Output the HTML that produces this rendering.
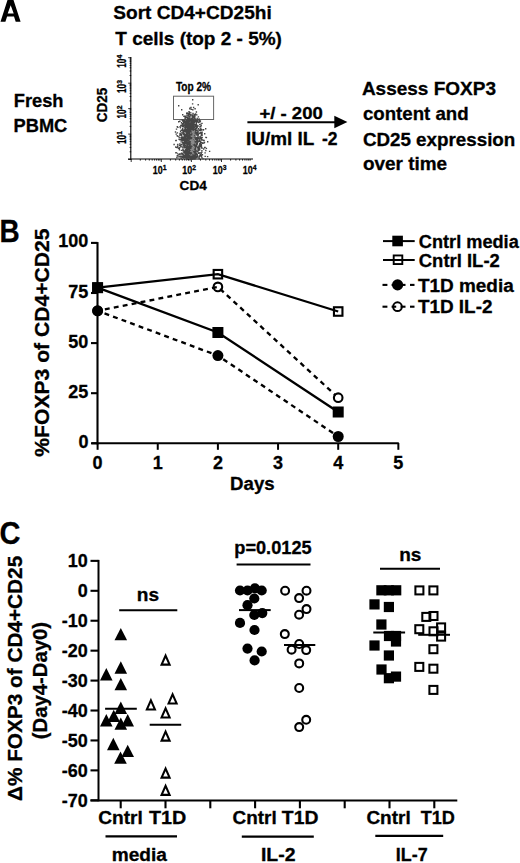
<!DOCTYPE html>
<html><head><meta charset="utf-8"><style>
html,body{margin:0;padding:0;background:#fff;}
svg{display:block;}
text{font-family:"Liberation Sans",sans-serif;font-weight:bold;fill:#000;stroke:#000;stroke-width:0.3px;}
line{stroke:#000;}
</style></head><body>
<svg width="520" height="863" viewBox="0 0 520 863">
<rect width="520" height="863" fill="#fff"/>
<path fill-rule="evenodd" fill="#000" d="M0.5,21.7 L7.5,0 L13.5,0 L20.6,21.7 L15.7,21.7 L14.0,16.4 L7.1,16.4 L5.4,21.7 Z M10.7,5.3 L7.7,13.4 L13.7,13.4 Z"/>
<text x="113.3" y="18.8" font-size="18.5" textLength="158.4" lengthAdjust="spacingAndGlyphs">Sort CD4+CD25hi</text>
<text x="115.3" y="44.6" font-size="18.5" textLength="166.6" lengthAdjust="spacingAndGlyphs">T cells (top 2 - 5%)</text>
<text x="13.8" y="106.9" font-size="17.5" textLength="49.7" lengthAdjust="spacingAndGlyphs">Fresh</text>
<text x="13.5" y="132.3" font-size="18" textLength="53.8" lengthAdjust="spacingAndGlyphs">PBMC</text>
<text x="361.9" y="94.7" font-size="18.5" textLength="134.1" lengthAdjust="spacingAndGlyphs">Assess FOXP3</text>
<text x="362.9" y="119.6" font-size="18.5" textLength="105.8" lengthAdjust="spacingAndGlyphs">content and</text>
<text x="362.9" y="145.5" font-size="18.5" textLength="152.4" lengthAdjust="spacingAndGlyphs">CD25 expression</text>
<text x="362.9" y="169.6" font-size="18.5" textLength="84.2" lengthAdjust="spacingAndGlyphs">over time</text>
<text x="259.4" y="118.6" font-size="16.5" textLength="63.4" lengthAdjust="spacingAndGlyphs">+/ - 200</text>
<text x="246" y="144.6" font-size="17.5" textLength="68.2" lengthAdjust="spacingAndGlyphs">IU/ml IL</text>
<text x="322" y="144.6" font-size="17.5" textLength="15.6" lengthAdjust="spacingAndGlyphs">-2</text>
<line x1="247.4" y1="122.2" x2="336" y2="122.2" stroke-width="2"/>
<polygon points="334.3,115.7 347.4,122.1 334.3,128.3" fill="#000"/>
<g stroke="#666" fill="none">
<line x1="130.8" y1="56.9" x2="130.8" y2="159.5" stroke-width="1.1"/>
<line x1="128" y1="159" x2="253" y2="159" stroke-width="1.1"/>
<line x1="128.2" y1="159.5" x2="131.2" y2="159.5" stroke-width="0.8"/>
<line x1="129.6" y1="151.8" x2="131.2" y2="151.8" stroke-width="0.8"/>
<line x1="129.6" y1="147.4" x2="131.2" y2="147.4" stroke-width="0.8"/>
<line x1="129.6" y1="144.2" x2="131.2" y2="144.2" stroke-width="0.8"/>
<line x1="129.6" y1="141.7" x2="131.2" y2="141.7" stroke-width="0.8"/>
<line x1="129.6" y1="139.7" x2="131.2" y2="139.7" stroke-width="0.8"/>
<line x1="129.6" y1="138.0" x2="131.2" y2="138.0" stroke-width="0.8"/>
<line x1="129.6" y1="136.5" x2="131.2" y2="136.5" stroke-width="0.8"/>
<line x1="129.6" y1="135.2" x2="131.2" y2="135.2" stroke-width="0.8"/>
<line x1="128.2" y1="134.1" x2="131.2" y2="134.1" stroke-width="0.8"/>
<line x1="129.6" y1="126.4" x2="131.2" y2="126.4" stroke-width="0.8"/>
<line x1="129.6" y1="121.9" x2="131.2" y2="121.9" stroke-width="0.8"/>
<line x1="129.6" y1="118.7" x2="131.2" y2="118.7" stroke-width="0.8"/>
<line x1="129.6" y1="116.3" x2="131.2" y2="116.3" stroke-width="0.8"/>
<line x1="129.6" y1="114.2" x2="131.2" y2="114.2" stroke-width="0.8"/>
<line x1="129.6" y1="112.5" x2="131.2" y2="112.5" stroke-width="0.8"/>
<line x1="129.6" y1="111.1" x2="131.2" y2="111.1" stroke-width="0.8"/>
<line x1="129.6" y1="109.8" x2="131.2" y2="109.8" stroke-width="0.8"/>
<line x1="128.2" y1="108.6" x2="131.2" y2="108.6" stroke-width="0.8"/>
<line x1="129.6" y1="100.9" x2="131.2" y2="100.9" stroke-width="0.8"/>
<line x1="129.6" y1="96.5" x2="131.2" y2="96.5" stroke-width="0.8"/>
<line x1="129.6" y1="93.3" x2="131.2" y2="93.3" stroke-width="0.8"/>
<line x1="129.6" y1="90.8" x2="131.2" y2="90.8" stroke-width="0.8"/>
<line x1="129.6" y1="88.8" x2="131.2" y2="88.8" stroke-width="0.8"/>
<line x1="129.6" y1="87.1" x2="131.2" y2="87.1" stroke-width="0.8"/>
<line x1="129.6" y1="85.6" x2="131.2" y2="85.6" stroke-width="0.8"/>
<line x1="129.6" y1="84.3" x2="131.2" y2="84.3" stroke-width="0.8"/>
<line x1="128.2" y1="83.2" x2="131.2" y2="83.2" stroke-width="0.8"/>
<line x1="129.6" y1="75.5" x2="131.2" y2="75.5" stroke-width="0.8"/>
<line x1="129.6" y1="71.0" x2="131.2" y2="71.0" stroke-width="0.8"/>
<line x1="129.6" y1="67.8" x2="131.2" y2="67.8" stroke-width="0.8"/>
<line x1="129.6" y1="65.4" x2="131.2" y2="65.4" stroke-width="0.8"/>
<line x1="129.6" y1="63.3" x2="131.2" y2="63.3" stroke-width="0.8"/>
<line x1="129.6" y1="61.6" x2="131.2" y2="61.6" stroke-width="0.8"/>
<line x1="129.6" y1="60.2" x2="131.2" y2="60.2" stroke-width="0.8"/>
<line x1="129.6" y1="58.9" x2="131.2" y2="58.9" stroke-width="0.8"/>
<line x1="128.2" y1="57.7" x2="131.2" y2="57.7" stroke-width="0.8"/>
<line x1="131.2" y1="159" x2="131.2" y2="162.0" stroke-width="0.8"/>
<line x1="140.3" y1="159" x2="140.3" y2="160.6" stroke-width="0.8"/>
<line x1="145.6" y1="159" x2="145.6" y2="160.6" stroke-width="0.8"/>
<line x1="149.3" y1="159" x2="149.3" y2="160.6" stroke-width="0.8"/>
<line x1="152.2" y1="159" x2="152.2" y2="160.6" stroke-width="0.8"/>
<line x1="154.6" y1="159" x2="154.6" y2="160.6" stroke-width="0.8"/>
<line x1="156.6" y1="159" x2="156.6" y2="160.6" stroke-width="0.8"/>
<line x1="158.4" y1="159" x2="158.4" y2="160.6" stroke-width="0.8"/>
<line x1="159.9" y1="159" x2="159.9" y2="160.6" stroke-width="0.8"/>
<line x1="161.3" y1="159" x2="161.3" y2="162.0" stroke-width="0.8"/>
<line x1="170.4" y1="159" x2="170.4" y2="160.6" stroke-width="0.8"/>
<line x1="175.7" y1="159" x2="175.7" y2="160.6" stroke-width="0.8"/>
<line x1="179.4" y1="159" x2="179.4" y2="160.6" stroke-width="0.8"/>
<line x1="182.3" y1="159" x2="182.3" y2="160.6" stroke-width="0.8"/>
<line x1="184.7" y1="159" x2="184.7" y2="160.6" stroke-width="0.8"/>
<line x1="186.7" y1="159" x2="186.7" y2="160.6" stroke-width="0.8"/>
<line x1="188.5" y1="159" x2="188.5" y2="160.6" stroke-width="0.8"/>
<line x1="190.0" y1="159" x2="190.0" y2="160.6" stroke-width="0.8"/>
<line x1="191.4" y1="159" x2="191.4" y2="162.0" stroke-width="0.8"/>
<line x1="200.5" y1="159" x2="200.5" y2="160.6" stroke-width="0.8"/>
<line x1="205.8" y1="159" x2="205.8" y2="160.6" stroke-width="0.8"/>
<line x1="209.5" y1="159" x2="209.5" y2="160.6" stroke-width="0.8"/>
<line x1="212.4" y1="159" x2="212.4" y2="160.6" stroke-width="0.8"/>
<line x1="214.8" y1="159" x2="214.8" y2="160.6" stroke-width="0.8"/>
<line x1="216.8" y1="159" x2="216.8" y2="160.6" stroke-width="0.8"/>
<line x1="218.6" y1="159" x2="218.6" y2="160.6" stroke-width="0.8"/>
<line x1="220.1" y1="159" x2="220.1" y2="160.6" stroke-width="0.8"/>
<line x1="221.5" y1="159" x2="221.5" y2="162.0" stroke-width="0.8"/>
<line x1="230.6" y1="159" x2="230.6" y2="160.6" stroke-width="0.8"/>
<line x1="235.9" y1="159" x2="235.9" y2="160.6" stroke-width="0.8"/>
<line x1="239.6" y1="159" x2="239.6" y2="160.6" stroke-width="0.8"/>
<line x1="242.5" y1="159" x2="242.5" y2="160.6" stroke-width="0.8"/>
<line x1="244.9" y1="159" x2="244.9" y2="160.6" stroke-width="0.8"/>
<line x1="246.9" y1="159" x2="246.9" y2="160.6" stroke-width="0.8"/>
<line x1="248.7" y1="159" x2="248.7" y2="160.6" stroke-width="0.8"/>
<line x1="250.2" y1="159" x2="250.2" y2="160.6" stroke-width="0.8"/>
</g>
<rect x="173.5" y="96.2" width="40.1" height="23.3" fill="none" stroke="#666" stroke-width="1"/>
<path d="M189.3 118.3h1.4v1.4h-1.4zM188.4 130.9h1.4v1.4h-1.4zM192.6 124.3h1.4v1.4h-1.4zM193.2 136.3h1.4v1.4h-1.4zM192.0 133.3h1.4v1.4h-1.4zM189.9 150.1h1.4v1.4h-1.4zM188.1 137.0h1.4v1.4h-1.4zM189.6 139.5h1.4v1.4h-1.4zM192.3 126.0h1.4v1.4h-1.4zM182.0 130.2h1.4v1.4h-1.4zM193.2 142.4h1.4v1.4h-1.4zM189.9 123.9h1.4v1.4h-1.4zM194.0 144.5h1.4v1.4h-1.4zM186.5 140.4h1.4v1.4h-1.4zM197.8 133.5h1.4v1.4h-1.4zM179.8 127.2h1.4v1.4h-1.4zM192.4 137.5h1.4v1.4h-1.4zM186.9 122.0h1.4v1.4h-1.4zM195.0 131.7h1.4v1.4h-1.4zM179.2 156.0h1.4v1.4h-1.4zM196.4 134.1h1.4v1.4h-1.4zM190.3 121.0h1.4v1.4h-1.4zM181.8 155.7h1.4v1.4h-1.4zM189.4 139.2h1.4v1.4h-1.4zM197.9 152.5h1.4v1.4h-1.4zM184.4 122.3h1.4v1.4h-1.4zM192.6 119.2h1.4v1.4h-1.4zM190.2 135.5h1.4v1.4h-1.4zM198.2 120.7h1.4v1.4h-1.4zM177.2 126.7h1.4v1.4h-1.4zM191.4 119.4h1.4v1.4h-1.4zM187.3 130.4h1.4v1.4h-1.4zM174.8 131.3h1.4v1.4h-1.4zM187.2 150.4h1.4v1.4h-1.4zM188.3 130.7h1.4v1.4h-1.4zM194.0 147.3h1.4v1.4h-1.4zM194.4 149.7h1.4v1.4h-1.4zM183.8 120.2h1.4v1.4h-1.4zM206.9 155.9h1.4v1.4h-1.4zM183.2 155.8h1.4v1.4h-1.4zM194.0 136.1h1.4v1.4h-1.4zM184.3 137.9h1.4v1.4h-1.4zM190.2 153.1h1.4v1.4h-1.4zM183.2 156.8h1.4v1.4h-1.4zM192.6 142.1h1.4v1.4h-1.4zM192.7 152.8h1.4v1.4h-1.4zM185.7 157.3h1.4v1.4h-1.4zM192.9 106.8h1.4v1.4h-1.4zM176.2 156.8h1.4v1.4h-1.4zM187.8 148.2h1.4v1.4h-1.4zM182.2 120.1h1.4v1.4h-1.4zM184.4 128.8h1.4v1.4h-1.4zM186.9 130.1h1.4v1.4h-1.4zM191.6 142.1h1.4v1.4h-1.4zM196.0 132.0h1.4v1.4h-1.4zM195.0 144.9h1.4v1.4h-1.4zM195.5 132.4h1.4v1.4h-1.4zM186.8 135.4h1.4v1.4h-1.4zM183.8 129.5h1.4v1.4h-1.4zM192.4 140.6h1.4v1.4h-1.4zM176.6 155.1h1.4v1.4h-1.4zM184.9 149.0h1.4v1.4h-1.4zM195.7 145.6h1.4v1.4h-1.4zM198.2 138.3h1.4v1.4h-1.4zM193.1 151.5h1.4v1.4h-1.4zM201.3 122.7h1.4v1.4h-1.4zM193.6 157.9h1.4v1.4h-1.4zM195.1 129.7h1.4v1.4h-1.4zM184.0 142.0h1.4v1.4h-1.4zM188.0 136.1h1.4v1.4h-1.4zM194.0 145.9h1.4v1.4h-1.4zM192.0 115.1h1.4v1.4h-1.4zM198.3 147.7h1.4v1.4h-1.4zM200.8 133.0h1.4v1.4h-1.4zM203.1 139.9h1.4v1.4h-1.4zM196.5 136.7h1.4v1.4h-1.4zM179.4 126.0h1.4v1.4h-1.4zM187.5 114.9h1.4v1.4h-1.4zM192.7 130.4h1.4v1.4h-1.4zM191.7 117.6h1.4v1.4h-1.4zM186.4 144.2h1.4v1.4h-1.4zM190.2 119.6h1.4v1.4h-1.4zM189.7 113.9h1.4v1.4h-1.4zM182.5 154.6h1.4v1.4h-1.4zM178.6 147.7h1.4v1.4h-1.4zM190.5 122.4h1.4v1.4h-1.4zM183.9 139.9h1.4v1.4h-1.4zM199.8 141.1h1.4v1.4h-1.4zM192.5 123.1h1.4v1.4h-1.4zM190.8 114.2h1.4v1.4h-1.4zM189.3 150.8h1.4v1.4h-1.4zM194.7 156.9h1.4v1.4h-1.4zM194.1 117.4h1.4v1.4h-1.4zM190.2 127.2h1.4v1.4h-1.4zM186.1 117.1h1.4v1.4h-1.4zM186.4 143.7h1.4v1.4h-1.4zM186.0 141.6h1.4v1.4h-1.4zM193.7 157.6h1.4v1.4h-1.4zM201.3 142.1h1.4v1.4h-1.4zM193.3 152.1h1.4v1.4h-1.4zM195.0 142.7h1.4v1.4h-1.4zM195.2 129.0h1.4v1.4h-1.4zM179.1 146.9h1.4v1.4h-1.4zM183.7 139.6h1.4v1.4h-1.4zM192.3 112.7h1.4v1.4h-1.4zM194.2 132.2h1.4v1.4h-1.4zM189.7 136.3h1.4v1.4h-1.4zM190.2 146.5h1.4v1.4h-1.4zM189.1 128.9h1.4v1.4h-1.4zM188.3 142.8h1.4v1.4h-1.4zM189.1 142.4h1.4v1.4h-1.4zM175.8 128.4h1.4v1.4h-1.4zM191.0 127.5h1.4v1.4h-1.4zM181.8 137.2h1.4v1.4h-1.4zM189.3 143.2h1.4v1.4h-1.4zM189.8 139.0h1.4v1.4h-1.4zM183.4 139.2h1.4v1.4h-1.4zM189.6 126.7h1.4v1.4h-1.4zM204.4 152.2h1.4v1.4h-1.4zM188.2 147.8h1.4v1.4h-1.4zM193.2 125.7h1.4v1.4h-1.4zM204.5 155.7h1.4v1.4h-1.4zM197.4 147.8h1.4v1.4h-1.4zM184.9 127.9h1.4v1.4h-1.4zM193.1 125.8h1.4v1.4h-1.4zM194.5 148.9h1.4v1.4h-1.4zM194.3 154.1h1.4v1.4h-1.4zM188.1 121.1h1.4v1.4h-1.4zM186.1 158.4h1.4v1.4h-1.4zM193.2 115.4h1.4v1.4h-1.4zM180.7 129.4h1.4v1.4h-1.4zM201.1 151.6h1.4v1.4h-1.4zM197.4 136.5h1.4v1.4h-1.4zM187.4 141.8h1.4v1.4h-1.4zM190.3 142.6h1.4v1.4h-1.4zM184.8 116.0h1.4v1.4h-1.4zM184.7 154.1h1.4v1.4h-1.4zM191.2 157.1h1.4v1.4h-1.4zM184.5 138.0h1.4v1.4h-1.4zM188.3 128.6h1.4v1.4h-1.4zM187.0 152.9h1.4v1.4h-1.4zM190.9 119.3h1.4v1.4h-1.4zM190.2 132.9h1.4v1.4h-1.4zM185.4 123.6h1.4v1.4h-1.4zM193.5 121.4h1.4v1.4h-1.4zM192.1 156.6h1.4v1.4h-1.4zM192.6 129.0h1.4v1.4h-1.4zM187.8 122.8h1.4v1.4h-1.4zM191.1 155.8h1.4v1.4h-1.4zM189.3 152.3h1.4v1.4h-1.4zM179.6 133.9h1.4v1.4h-1.4zM199.0 148.1h1.4v1.4h-1.4zM192.9 156.8h1.4v1.4h-1.4zM192.2 130.1h1.4v1.4h-1.4zM184.0 155.0h1.4v1.4h-1.4zM183.4 126.2h1.4v1.4h-1.4zM193.4 137.4h1.4v1.4h-1.4zM193.5 136.9h1.4v1.4h-1.4zM187.2 130.2h1.4v1.4h-1.4zM193.0 134.8h1.4v1.4h-1.4zM195.4 156.1h1.4v1.4h-1.4zM185.6 156.2h1.4v1.4h-1.4zM184.3 117.3h1.4v1.4h-1.4zM190.3 124.0h1.4v1.4h-1.4zM190.4 138.7h1.4v1.4h-1.4zM191.3 119.1h1.4v1.4h-1.4zM193.1 139.6h1.4v1.4h-1.4zM181.8 129.0h1.4v1.4h-1.4zM192.1 156.7h1.4v1.4h-1.4zM186.7 128.5h1.4v1.4h-1.4zM193.9 138.6h1.4v1.4h-1.4zM195.1 152.4h1.4v1.4h-1.4zM195.2 142.6h1.4v1.4h-1.4zM187.9 143.4h1.4v1.4h-1.4zM186.4 138.5h1.4v1.4h-1.4zM192.1 109.1h1.4v1.4h-1.4zM194.3 155.9h1.4v1.4h-1.4zM189.3 147.9h1.4v1.4h-1.4zM180.8 152.4h1.4v1.4h-1.4zM196.1 144.6h1.4v1.4h-1.4zM190.0 153.7h1.4v1.4h-1.4zM181.3 119.2h1.4v1.4h-1.4zM189.5 156.0h1.4v1.4h-1.4zM196.5 117.8h1.4v1.4h-1.4zM191.5 153.5h1.4v1.4h-1.4zM189.7 155.9h1.4v1.4h-1.4zM185.5 122.0h1.4v1.4h-1.4zM193.2 154.2h1.4v1.4h-1.4zM194.8 146.8h1.4v1.4h-1.4zM180.8 135.1h1.4v1.4h-1.4zM190.5 118.0h1.4v1.4h-1.4zM188.8 113.7h1.4v1.4h-1.4zM190.0 151.6h1.4v1.4h-1.4zM192.7 141.2h1.4v1.4h-1.4zM190.0 135.9h1.4v1.4h-1.4zM178.4 138.5h1.4v1.4h-1.4zM184.8 149.0h1.4v1.4h-1.4zM187.8 142.9h1.4v1.4h-1.4zM175.5 133.4h1.4v1.4h-1.4zM200.4 129.2h1.4v1.4h-1.4zM193.0 147.1h1.4v1.4h-1.4zM190.1 127.2h1.4v1.4h-1.4zM195.1 149.0h1.4v1.4h-1.4zM191.5 156.9h1.4v1.4h-1.4zM194.6 154.3h1.4v1.4h-1.4zM185.2 155.3h1.4v1.4h-1.4zM191.4 134.5h1.4v1.4h-1.4zM195.9 137.8h1.4v1.4h-1.4zM188.6 139.4h1.4v1.4h-1.4zM194.0 146.3h1.4v1.4h-1.4zM188.9 122.5h1.4v1.4h-1.4zM188.6 123.4h1.4v1.4h-1.4zM199.7 120.3h1.4v1.4h-1.4zM179.2 120.6h1.4v1.4h-1.4zM203.3 142.3h1.4v1.4h-1.4zM190.6 124.2h1.4v1.4h-1.4zM196.6 126.4h1.4v1.4h-1.4zM190.9 137.1h1.4v1.4h-1.4zM192.4 121.1h1.4v1.4h-1.4zM193.8 130.0h1.4v1.4h-1.4zM191.2 146.9h1.4v1.4h-1.4zM193.2 155.1h1.4v1.4h-1.4zM194.8 127.7h1.4v1.4h-1.4zM187.5 152.8h1.4v1.4h-1.4zM191.2 148.1h1.4v1.4h-1.4zM186.0 148.3h1.4v1.4h-1.4zM193.1 129.8h1.4v1.4h-1.4zM193.4 142.1h1.4v1.4h-1.4zM191.8 144.1h1.4v1.4h-1.4zM187.6 134.7h1.4v1.4h-1.4zM183.1 136.3h1.4v1.4h-1.4zM193.2 124.3h1.4v1.4h-1.4zM197.0 125.6h1.4v1.4h-1.4zM191.3 128.1h1.4v1.4h-1.4zM186.5 144.4h1.4v1.4h-1.4zM191.0 127.2h1.4v1.4h-1.4zM188.7 129.4h1.4v1.4h-1.4zM188.3 142.6h1.4v1.4h-1.4zM184.9 129.4h1.4v1.4h-1.4zM190.1 155.6h1.4v1.4h-1.4zM188.9 150.0h1.4v1.4h-1.4zM179.1 153.5h1.4v1.4h-1.4zM195.4 145.9h1.4v1.4h-1.4zM192.5 144.0h1.4v1.4h-1.4zM191.6 152.3h1.4v1.4h-1.4zM187.5 128.9h1.4v1.4h-1.4zM193.5 129.1h1.4v1.4h-1.4zM191.1 139.4h1.4v1.4h-1.4zM195.6 136.9h1.4v1.4h-1.4zM184.8 133.5h1.4v1.4h-1.4zM191.6 136.5h1.4v1.4h-1.4zM185.6 157.9h1.4v1.4h-1.4zM190.1 125.3h1.4v1.4h-1.4zM188.3 147.8h1.4v1.4h-1.4zM182.5 137.0h1.4v1.4h-1.4zM187.2 117.6h1.4v1.4h-1.4zM177.3 135.7h1.4v1.4h-1.4zM189.2 137.9h1.4v1.4h-1.4zM185.4 134.1h1.4v1.4h-1.4zM187.5 113.5h1.4v1.4h-1.4zM186.3 150.8h1.4v1.4h-1.4zM192.8 132.5h1.4v1.4h-1.4zM199.4 137.4h1.4v1.4h-1.4zM187.3 123.2h1.4v1.4h-1.4zM192.8 155.0h1.4v1.4h-1.4zM197.2 129.2h1.4v1.4h-1.4zM188.3 147.4h1.4v1.4h-1.4zM195.0 145.6h1.4v1.4h-1.4zM189.9 143.3h1.4v1.4h-1.4zM186.6 112.4h1.4v1.4h-1.4zM187.3 112.8h1.4v1.4h-1.4zM198.9 140.4h1.4v1.4h-1.4zM184.0 141.3h1.4v1.4h-1.4zM188.0 145.9h1.4v1.4h-1.4zM191.0 156.4h1.4v1.4h-1.4zM189.5 143.3h1.4v1.4h-1.4zM194.2 143.4h1.4v1.4h-1.4zM186.5 136.5h1.4v1.4h-1.4zM178.7 138.6h1.4v1.4h-1.4zM192.4 140.5h1.4v1.4h-1.4zM186.4 125.0h1.4v1.4h-1.4zM189.2 107.6h1.4v1.4h-1.4zM191.4 119.5h1.4v1.4h-1.4zM190.5 140.2h1.4v1.4h-1.4zM197.7 140.5h1.4v1.4h-1.4zM193.5 147.8h1.4v1.4h-1.4zM193.4 153.4h1.4v1.4h-1.4zM192.8 149.4h1.4v1.4h-1.4zM186.8 136.7h1.4v1.4h-1.4zM186.5 144.1h1.4v1.4h-1.4zM195.2 120.9h1.4v1.4h-1.4zM188.6 149.7h1.4v1.4h-1.4zM185.9 125.0h1.4v1.4h-1.4zM197.4 131.0h1.4v1.4h-1.4zM191.8 150.3h1.4v1.4h-1.4zM186.8 144.3h1.4v1.4h-1.4zM192.7 128.2h1.4v1.4h-1.4zM194.2 115.9h1.4v1.4h-1.4zM196.9 140.6h1.4v1.4h-1.4zM195.7 140.5h1.4v1.4h-1.4zM185.2 136.4h1.4v1.4h-1.4zM193.8 152.0h1.4v1.4h-1.4zM191.5 151.9h1.4v1.4h-1.4zM194.8 152.6h1.4v1.4h-1.4zM190.4 130.6h1.4v1.4h-1.4zM184.1 119.7h1.4v1.4h-1.4zM193.4 138.4h1.4v1.4h-1.4zM195.9 145.0h1.4v1.4h-1.4zM192.1 151.7h1.4v1.4h-1.4zM195.0 140.8h1.4v1.4h-1.4zM188.5 130.1h1.4v1.4h-1.4zM193.7 157.0h1.4v1.4h-1.4zM189.5 157.5h1.4v1.4h-1.4zM185.4 122.1h1.4v1.4h-1.4zM185.6 140.3h1.4v1.4h-1.4zM186.4 123.1h1.4v1.4h-1.4zM181.1 153.0h1.4v1.4h-1.4zM186.7 124.1h1.4v1.4h-1.4zM191.6 142.0h1.4v1.4h-1.4zM180.8 149.7h1.4v1.4h-1.4zM186.9 137.2h1.4v1.4h-1.4zM198.1 145.6h1.4v1.4h-1.4zM184.2 136.5h1.4v1.4h-1.4zM193.3 136.0h1.4v1.4h-1.4zM193.8 139.2h1.4v1.4h-1.4zM198.3 145.3h1.4v1.4h-1.4zM196.6 155.0h1.4v1.4h-1.4zM194.6 131.2h1.4v1.4h-1.4zM193.3 129.5h1.4v1.4h-1.4zM185.6 120.2h1.4v1.4h-1.4zM188.0 124.0h1.4v1.4h-1.4zM194.0 154.9h1.4v1.4h-1.4zM195.6 122.3h1.4v1.4h-1.4zM197.9 147.2h1.4v1.4h-1.4zM192.2 126.9h1.4v1.4h-1.4zM205.7 147.7h1.4v1.4h-1.4zM187.7 126.9h1.4v1.4h-1.4zM189.3 148.6h1.4v1.4h-1.4zM186.9 149.6h1.4v1.4h-1.4zM192.8 124.4h1.4v1.4h-1.4zM188.8 115.7h1.4v1.4h-1.4zM195.4 124.5h1.4v1.4h-1.4zM201.0 138.2h1.4v1.4h-1.4zM185.0 152.9h1.4v1.4h-1.4zM205.2 136.7h1.4v1.4h-1.4zM191.3 138.0h1.4v1.4h-1.4zM196.3 119.6h1.4v1.4h-1.4zM184.1 135.2h1.4v1.4h-1.4zM193.0 138.8h1.4v1.4h-1.4zM179.9 130.6h1.4v1.4h-1.4zM190.5 132.0h1.4v1.4h-1.4zM193.1 128.3h1.4v1.4h-1.4zM184.2 126.8h1.4v1.4h-1.4zM190.6 131.1h1.4v1.4h-1.4zM185.2 126.8h1.4v1.4h-1.4zM182.9 121.3h1.4v1.4h-1.4zM184.5 156.2h1.4v1.4h-1.4zM183.6 139.6h1.4v1.4h-1.4zM191.3 129.4h1.4v1.4h-1.4zM189.2 141.7h1.4v1.4h-1.4zM182.8 120.8h1.4v1.4h-1.4zM188.9 124.1h1.4v1.4h-1.4zM193.1 148.2h1.4v1.4h-1.4zM185.4 129.0h1.4v1.4h-1.4zM187.6 137.9h1.4v1.4h-1.4zM194.9 136.8h1.4v1.4h-1.4zM195.1 151.7h1.4v1.4h-1.4zM191.8 153.8h1.4v1.4h-1.4zM197.3 138.2h1.4v1.4h-1.4zM185.7 135.7h1.4v1.4h-1.4zM188.4 140.4h1.4v1.4h-1.4zM186.4 138.7h1.4v1.4h-1.4zM190.9 144.4h1.4v1.4h-1.4zM191.7 145.1h1.4v1.4h-1.4zM194.9 138.0h1.4v1.4h-1.4zM181.1 132.4h1.4v1.4h-1.4zM197.6 137.2h1.4v1.4h-1.4zM192.9 147.2h1.4v1.4h-1.4zM196.2 153.7h1.4v1.4h-1.4zM190.7 134.2h1.4v1.4h-1.4zM187.8 157.4h1.4v1.4h-1.4zM191.7 137.3h1.4v1.4h-1.4zM194.4 108.0h1.4v1.4h-1.4zM190.3 106.7h1.4v1.4h-1.4zM189.8 141.8h1.4v1.4h-1.4zM186.3 141.5h1.4v1.4h-1.4zM183.6 142.4h1.4v1.4h-1.4zM183.3 141.7h1.4v1.4h-1.4zM186.5 147.6h1.4v1.4h-1.4zM198.0 127.9h1.4v1.4h-1.4zM184.1 120.9h1.4v1.4h-1.4zM193.6 136.5h1.4v1.4h-1.4zM185.6 155.2h1.4v1.4h-1.4zM188.1 140.8h1.4v1.4h-1.4zM186.0 157.2h1.4v1.4h-1.4zM187.1 134.8h1.4v1.4h-1.4zM195.0 147.0h1.4v1.4h-1.4zM190.2 124.1h1.4v1.4h-1.4zM201.3 147.6h1.4v1.4h-1.4zM193.2 147.3h1.4v1.4h-1.4zM196.5 133.0h1.4v1.4h-1.4zM181.3 139.7h1.4v1.4h-1.4zM183.1 119.6h1.4v1.4h-1.4zM186.6 154.4h1.4v1.4h-1.4zM186.1 135.1h1.4v1.4h-1.4zM191.1 146.1h1.4v1.4h-1.4zM178.8 144.9h1.4v1.4h-1.4zM184.0 151.7h1.4v1.4h-1.4zM191.5 127.4h1.4v1.4h-1.4zM192.8 120.6h1.4v1.4h-1.4zM191.0 122.9h1.4v1.4h-1.4zM191.7 158.3h1.4v1.4h-1.4zM185.6 145.8h1.4v1.4h-1.4zM187.3 129.9h1.4v1.4h-1.4zM185.9 150.5h1.4v1.4h-1.4zM188.3 145.4h1.4v1.4h-1.4zM196.8 155.3h1.4v1.4h-1.4zM182.0 114.1h1.4v1.4h-1.4zM176.7 132.2h1.4v1.4h-1.4zM194.0 153.1h1.4v1.4h-1.4zM201.4 134.6h1.4v1.4h-1.4zM200.8 137.1h1.4v1.4h-1.4zM186.8 138.8h1.4v1.4h-1.4zM191.3 156.5h1.4v1.4h-1.4zM190.1 112.2h1.4v1.4h-1.4zM195.9 152.7h1.4v1.4h-1.4zM192.4 148.8h1.4v1.4h-1.4zM180.9 137.5h1.4v1.4h-1.4zM187.9 143.9h1.4v1.4h-1.4zM185.7 134.2h1.4v1.4h-1.4zM188.1 114.3h1.4v1.4h-1.4zM190.6 139.3h1.4v1.4h-1.4zM203.8 141.7h1.4v1.4h-1.4zM193.3 150.6h1.4v1.4h-1.4zM184.9 149.1h1.4v1.4h-1.4zM191.8 148.0h1.4v1.4h-1.4zM190.6 136.4h1.4v1.4h-1.4zM192.3 141.5h1.4v1.4h-1.4zM193.7 149.0h1.4v1.4h-1.4zM196.4 138.8h1.4v1.4h-1.4zM190.0 127.4h1.4v1.4h-1.4zM194.3 158.4h1.4v1.4h-1.4zM189.5 152.3h1.4v1.4h-1.4zM185.2 157.2h1.4v1.4h-1.4zM190.4 147.0h1.4v1.4h-1.4zM190.5 148.5h1.4v1.4h-1.4zM187.2 153.3h1.4v1.4h-1.4zM188.8 141.3h1.4v1.4h-1.4zM189.6 135.2h1.4v1.4h-1.4zM194.3 135.4h1.4v1.4h-1.4zM190.9 147.3h1.4v1.4h-1.4zM192.3 142.6h1.4v1.4h-1.4zM192.3 141.9h1.4v1.4h-1.4zM185.1 149.1h1.4v1.4h-1.4zM195.3 128.3h1.4v1.4h-1.4zM186.5 150.9h1.4v1.4h-1.4zM186.2 120.8h1.4v1.4h-1.4zM195.0 125.5h1.4v1.4h-1.4zM186.1 147.6h1.4v1.4h-1.4zM198.9 155.8h1.4v1.4h-1.4zM189.1 129.5h1.4v1.4h-1.4zM189.9 156.6h1.4v1.4h-1.4zM198.4 140.6h1.4v1.4h-1.4zM191.1 133.3h1.4v1.4h-1.4zM196.8 140.8h1.4v1.4h-1.4zM184.1 128.4h1.4v1.4h-1.4zM188.5 115.6h1.4v1.4h-1.4zM192.0 134.2h1.4v1.4h-1.4zM196.8 143.4h1.4v1.4h-1.4zM180.8 122.1h1.4v1.4h-1.4zM178.7 149.0h1.4v1.4h-1.4zM199.1 145.2h1.4v1.4h-1.4zM194.9 146.9h1.4v1.4h-1.4zM179.3 156.0h1.4v1.4h-1.4zM187.9 136.6h1.4v1.4h-1.4zM189.8 124.8h1.4v1.4h-1.4zM198.2 156.7h1.4v1.4h-1.4zM186.9 147.2h1.4v1.4h-1.4zM187.2 151.6h1.4v1.4h-1.4zM186.5 139.4h1.4v1.4h-1.4zM187.1 131.3h1.4v1.4h-1.4zM187.3 130.0h1.4v1.4h-1.4zM187.2 155.6h1.4v1.4h-1.4zM198.5 155.9h1.4v1.4h-1.4zM192.3 130.8h1.4v1.4h-1.4zM191.6 116.2h1.4v1.4h-1.4zM182.2 149.0h1.4v1.4h-1.4zM187.1 126.4h1.4v1.4h-1.4zM188.5 135.5h1.4v1.4h-1.4zM193.3 121.8h1.4v1.4h-1.4zM183.6 150.3h1.4v1.4h-1.4zM187.7 150.8h1.4v1.4h-1.4zM192.9 125.2h1.4v1.4h-1.4zM193.0 156.1h1.4v1.4h-1.4zM193.4 135.7h1.4v1.4h-1.4zM183.6 143.0h1.4v1.4h-1.4zM192.3 144.2h1.4v1.4h-1.4zM180.9 153.4h1.4v1.4h-1.4zM191.0 150.8h1.4v1.4h-1.4zM182.5 133.0h1.4v1.4h-1.4zM185.5 145.6h1.4v1.4h-1.4zM187.2 125.9h1.4v1.4h-1.4zM184.2 142.0h1.4v1.4h-1.4zM193.8 121.9h1.4v1.4h-1.4zM183.6 145.8h1.4v1.4h-1.4zM190.2 133.6h1.4v1.4h-1.4zM196.6 153.7h1.4v1.4h-1.4zM180.5 156.0h1.4v1.4h-1.4zM199.0 132.6h1.4v1.4h-1.4zM185.7 129.8h1.4v1.4h-1.4zM185.1 139.8h1.4v1.4h-1.4zM196.6 139.3h1.4v1.4h-1.4zM181.7 122.9h1.4v1.4h-1.4zM184.6 156.4h1.4v1.4h-1.4zM194.7 125.2h1.4v1.4h-1.4zM190.1 130.5h1.4v1.4h-1.4zM187.3 157.2h1.4v1.4h-1.4zM190.0 152.2h1.4v1.4h-1.4zM195.1 147.8h1.4v1.4h-1.4zM186.5 129.4h1.4v1.4h-1.4zM178.5 136.5h1.4v1.4h-1.4zM205.7 136.9h1.4v1.4h-1.4zM187.7 123.5h1.4v1.4h-1.4zM199.0 149.1h1.4v1.4h-1.4zM182.5 138.8h1.4v1.4h-1.4zM190.3 133.2h1.4v1.4h-1.4zM193.2 144.2h1.4v1.4h-1.4zM192.2 130.1h1.4v1.4h-1.4zM191.1 135.5h1.4v1.4h-1.4zM190.6 144.8h1.4v1.4h-1.4zM192.5 141.6h1.4v1.4h-1.4zM194.3 133.6h1.4v1.4h-1.4zM200.0 125.8h1.4v1.4h-1.4zM194.4 133.7h1.4v1.4h-1.4zM190.2 125.2h1.4v1.4h-1.4zM192.0 154.4h1.4v1.4h-1.4zM177.8 147.5h1.4v1.4h-1.4zM182.1 128.5h1.4v1.4h-1.4zM185.7 141.7h1.4v1.4h-1.4zM200.1 127.8h1.4v1.4h-1.4zM193.7 120.3h1.4v1.4h-1.4zM189.3 132.4h1.4v1.4h-1.4zM188.5 130.8h1.4v1.4h-1.4zM191.1 119.9h1.4v1.4h-1.4zM188.6 113.1h1.4v1.4h-1.4zM185.4 148.7h1.4v1.4h-1.4zM191.2 125.4h1.4v1.4h-1.4zM187.2 129.0h1.4v1.4h-1.4zM189.2 125.9h1.4v1.4h-1.4zM185.6 152.5h1.4v1.4h-1.4zM187.9 120.9h1.4v1.4h-1.4zM187.5 150.9h1.4v1.4h-1.4zM189.0 129.5h1.4v1.4h-1.4zM197.8 121.9h1.4v1.4h-1.4zM188.3 132.8h1.4v1.4h-1.4zM191.4 120.5h1.4v1.4h-1.4zM189.2 116.7h1.4v1.4h-1.4zM194.3 153.1h1.4v1.4h-1.4zM193.5 151.5h1.4v1.4h-1.4zM193.8 138.5h1.4v1.4h-1.4zM189.1 123.5h1.4v1.4h-1.4zM185.8 149.4h1.4v1.4h-1.4zM200.3 136.4h1.4v1.4h-1.4zM199.1 142.7h1.4v1.4h-1.4zM194.4 137.0h1.4v1.4h-1.4zM183.5 141.6h1.4v1.4h-1.4zM190.1 124.9h1.4v1.4h-1.4zM190.4 148.6h1.4v1.4h-1.4zM193.3 116.0h1.4v1.4h-1.4zM183.6 143.6h1.4v1.4h-1.4zM190.0 140.3h1.4v1.4h-1.4zM183.2 115.7h1.4v1.4h-1.4zM198.7 155.3h1.4v1.4h-1.4zM186.2 142.9h1.4v1.4h-1.4zM199.1 136.4h1.4v1.4h-1.4zM192.7 124.5h1.4v1.4h-1.4zM190.3 154.2h1.4v1.4h-1.4zM188.4 140.8h1.4v1.4h-1.4zM185.8 156.7h1.4v1.4h-1.4zM189.2 123.5h1.4v1.4h-1.4zM188.6 117.5h1.4v1.4h-1.4zM182.4 129.7h1.4v1.4h-1.4zM186.3 154.7h1.4v1.4h-1.4zM201.4 131.6h1.4v1.4h-1.4zM191.4 134.6h1.4v1.4h-1.4zM182.1 120.4h1.4v1.4h-1.4zM187.7 125.7h1.4v1.4h-1.4zM194.5 120.6h1.4v1.4h-1.4zM198.6 158.0h1.4v1.4h-1.4zM195.1 157.3h1.4v1.4h-1.4zM189.6 124.8h1.4v1.4h-1.4zM190.0 153.7h1.4v1.4h-1.4zM187.5 136.4h1.4v1.4h-1.4zM188.0 113.6h1.4v1.4h-1.4zM193.6 149.0h1.4v1.4h-1.4zM198.2 149.3h1.4v1.4h-1.4zM188.4 148.4h1.4v1.4h-1.4zM193.7 148.1h1.4v1.4h-1.4zM184.6 120.9h1.4v1.4h-1.4zM194.9 113.2h1.4v1.4h-1.4zM194.1 132.7h1.4v1.4h-1.4zM181.6 152.9h1.4v1.4h-1.4zM192.7 128.4h1.4v1.4h-1.4zM194.4 133.6h1.4v1.4h-1.4zM175.1 139.9h1.4v1.4h-1.4zM194.7 125.2h1.4v1.4h-1.4zM196.7 142.0h1.4v1.4h-1.4zM180.1 145.8h1.4v1.4h-1.4zM187.1 129.6h1.4v1.4h-1.4zM195.8 138.6h1.4v1.4h-1.4zM188.3 152.8h1.4v1.4h-1.4zM196.2 132.5h1.4v1.4h-1.4zM201.2 156.8h1.4v1.4h-1.4zM177.8 156.2h1.4v1.4h-1.4zM186.5 147.3h1.4v1.4h-1.4zM182.7 155.7h1.4v1.4h-1.4zM183.2 137.5h1.4v1.4h-1.4zM200.8 139.4h1.4v1.4h-1.4zM185.5 121.1h1.4v1.4h-1.4zM193.8 132.6h1.4v1.4h-1.4zM199.4 152.0h1.4v1.4h-1.4zM194.7 114.1h1.4v1.4h-1.4zM183.2 130.6h1.4v1.4h-1.4zM190.7 134.0h1.4v1.4h-1.4zM181.6 123.3h1.4v1.4h-1.4zM194.4 131.8h1.4v1.4h-1.4zM199.9 144.0h1.4v1.4h-1.4zM189.8 122.3h1.4v1.4h-1.4zM190.7 156.1h1.4v1.4h-1.4zM186.9 145.2h1.4v1.4h-1.4zM196.7 141.1h1.4v1.4h-1.4zM184.7 150.9h1.4v1.4h-1.4zM195.2 153.6h1.4v1.4h-1.4zM199.0 139.5h1.4v1.4h-1.4zM189.9 142.9h1.4v1.4h-1.4zM188.4 134.9h1.4v1.4h-1.4zM200.0 131.7h1.4v1.4h-1.4zM199.3 139.2h1.4v1.4h-1.4zM191.1 148.9h1.4v1.4h-1.4zM190.8 121.7h1.4v1.4h-1.4zM186.1 151.1h1.4v1.4h-1.4zM179.9 155.5h1.4v1.4h-1.4zM181.7 119.4h1.4v1.4h-1.4zM190.1 146.6h1.4v1.4h-1.4zM186.7 139.4h1.4v1.4h-1.4zM190.7 149.3h1.4v1.4h-1.4zM195.0 150.9h1.4v1.4h-1.4zM192.7 134.1h1.4v1.4h-1.4zM186.6 126.8h1.4v1.4h-1.4zM192.7 118.9h1.4v1.4h-1.4zM189.2 138.9h1.4v1.4h-1.4zM196.6 130.4h1.4v1.4h-1.4zM180.5 158.0h1.4v1.4h-1.4zM186.3 150.9h1.4v1.4h-1.4zM187.0 136.7h1.4v1.4h-1.4zM194.0 146.3h1.4v1.4h-1.4zM186.8 154.8h1.4v1.4h-1.4zM200.0 143.0h1.4v1.4h-1.4zM184.3 136.8h1.4v1.4h-1.4zM188.5 127.6h1.4v1.4h-1.4zM198.7 119.8h1.4v1.4h-1.4zM190.7 126.0h1.4v1.4h-1.4zM191.3 132.8h1.4v1.4h-1.4zM191.5 116.9h1.4v1.4h-1.4zM195.3 142.2h1.4v1.4h-1.4zM188.1 153.8h1.4v1.4h-1.4zM183.8 133.5h1.4v1.4h-1.4zM198.4 152.5h1.4v1.4h-1.4zM191.6 114.3h1.4v1.4h-1.4zM194.3 140.9h1.4v1.4h-1.4zM182.9 122.8h1.4v1.4h-1.4zM182.9 137.6h1.4v1.4h-1.4zM188.2 142.7h1.4v1.4h-1.4zM188.7 147.2h1.4v1.4h-1.4zM192.2 119.3h1.4v1.4h-1.4zM197.2 151.1h1.4v1.4h-1.4zM185.5 153.9h1.4v1.4h-1.4zM199.2 137.6h1.4v1.4h-1.4zM196.1 139.4h1.4v1.4h-1.4zM192.4 134.6h1.4v1.4h-1.4zM196.0 126.6h1.4v1.4h-1.4zM186.6 157.8h1.4v1.4h-1.4zM188.9 135.5h1.4v1.4h-1.4zM192.6 144.6h1.4v1.4h-1.4zM182.3 147.4h1.4v1.4h-1.4zM188.4 132.0h1.4v1.4h-1.4zM189.9 134.8h1.4v1.4h-1.4zM185.5 141.3h1.4v1.4h-1.4zM192.6 145.2h1.4v1.4h-1.4zM176.6 126.0h1.4v1.4h-1.4zM190.7 130.1h1.4v1.4h-1.4zM190.7 127.3h1.4v1.4h-1.4zM194.6 145.1h1.4v1.4h-1.4zM189.9 144.0h1.4v1.4h-1.4zM195.3 132.0h1.4v1.4h-1.4zM188.0 142.9h1.4v1.4h-1.4zM190.6 108.6h1.4v1.4h-1.4zM185.7 157.4h1.4v1.4h-1.4zM192.3 136.8h1.4v1.4h-1.4zM183.8 155.2h1.4v1.4h-1.4zM184.3 144.2h1.4v1.4h-1.4zM208.9 150.7h1.4v1.4h-1.4zM189.1 143.7h1.4v1.4h-1.4zM194.8 127.9h1.4v1.4h-1.4zM179.2 134.6h1.4v1.4h-1.4zM184.2 150.4h1.4v1.4h-1.4zM189.8 150.4h1.4v1.4h-1.4zM191.5 139.6h1.4v1.4h-1.4zM191.8 141.6h1.4v1.4h-1.4zM190.0 140.0h1.4v1.4h-1.4zM187.9 129.0h1.4v1.4h-1.4zM191.3 128.8h1.4v1.4h-1.4zM193.6 120.0h1.4v1.4h-1.4zM187.4 151.5h1.4v1.4h-1.4zM190.1 115.2h1.4v1.4h-1.4zM192.0 123.3h1.4v1.4h-1.4zM187.8 120.6h1.4v1.4h-1.4zM182.6 131.4h1.4v1.4h-1.4zM197.0 140.1h1.4v1.4h-1.4zM185.0 122.8h1.4v1.4h-1.4zM188.1 122.0h1.4v1.4h-1.4zM192.0 158.4h1.4v1.4h-1.4zM190.0 135.2h1.4v1.4h-1.4zM196.3 121.4h1.4v1.4h-1.4zM191.8 149.2h1.4v1.4h-1.4zM189.1 140.3h1.4v1.4h-1.4zM183.7 137.5h1.4v1.4h-1.4zM205.1 149.8h1.4v1.4h-1.4zM188.8 143.2h1.4v1.4h-1.4zM184.8 130.3h1.4v1.4h-1.4zM184.9 139.3h1.4v1.4h-1.4zM185.5 127.2h1.4v1.4h-1.4zM190.7 130.1h1.4v1.4h-1.4zM193.5 154.2h1.4v1.4h-1.4zM191.8 130.2h1.4v1.4h-1.4zM186.8 126.4h1.4v1.4h-1.4zM191.4 148.2h1.4v1.4h-1.4zM188.9 147.7h1.4v1.4h-1.4zM187.7 146.8h1.4v1.4h-1.4zM191.0 140.4h1.4v1.4h-1.4zM190.4 127.5h1.4v1.4h-1.4zM186.7 139.5h1.4v1.4h-1.4zM186.8 130.0h1.4v1.4h-1.4zM193.1 121.7h1.4v1.4h-1.4zM188.2 141.7h1.4v1.4h-1.4zM194.3 148.6h1.4v1.4h-1.4zM192.1 136.9h1.4v1.4h-1.4zM196.3 146.1h1.4v1.4h-1.4zM186.3 121.1h1.4v1.4h-1.4zM192.3 141.4h1.4v1.4h-1.4zM191.8 123.3h1.4v1.4h-1.4zM186.3 121.9h1.4v1.4h-1.4zM199.7 154.0h1.4v1.4h-1.4zM189.0 118.6h1.4v1.4h-1.4zM183.1 144.0h1.4v1.4h-1.4zM189.0 152.6h1.4v1.4h-1.4zM193.0 126.5h1.4v1.4h-1.4zM185.7 127.2h1.4v1.4h-1.4zM181.1 125.2h1.4v1.4h-1.4zM189.4 138.9h1.4v1.4h-1.4zM187.7 122.9h1.4v1.4h-1.4zM183.2 144.8h1.4v1.4h-1.4zM198.9 143.8h1.4v1.4h-1.4zM193.3 141.3h1.4v1.4h-1.4zM198.9 123.9h1.4v1.4h-1.4zM190.1 150.9h1.4v1.4h-1.4zM193.4 117.6h1.4v1.4h-1.4zM184.9 129.4h1.4v1.4h-1.4zM193.1 150.6h1.4v1.4h-1.4zM188.3 111.0h1.4v1.4h-1.4zM183.9 130.9h1.4v1.4h-1.4zM191.7 133.7h1.4v1.4h-1.4zM197.0 146.7h1.4v1.4h-1.4zM186.8 130.7h1.4v1.4h-1.4zM188.7 132.6h1.4v1.4h-1.4zM201.0 146.7h1.4v1.4h-1.4zM195.1 125.5h1.4v1.4h-1.4zM192.5 137.0h1.4v1.4h-1.4zM187.0 150.3h1.4v1.4h-1.4zM188.0 153.9h1.4v1.4h-1.4zM186.0 146.6h1.4v1.4h-1.4zM185.1 116.5h1.4v1.4h-1.4zM193.8 148.9h1.4v1.4h-1.4zM188.2 145.7h1.4v1.4h-1.4zM189.7 123.7h1.4v1.4h-1.4zM203.4 139.8h1.4v1.4h-1.4zM187.3 116.5h1.4v1.4h-1.4zM187.7 132.4h1.4v1.4h-1.4zM192.1 153.3h1.4v1.4h-1.4zM187.3 146.6h1.4v1.4h-1.4zM185.5 122.3h1.4v1.4h-1.4zM196.2 142.3h1.4v1.4h-1.4zM191.7 139.4h1.4v1.4h-1.4zM187.5 153.9h1.4v1.4h-1.4zM188.8 154.9h1.4v1.4h-1.4zM195.7 143.6h1.4v1.4h-1.4zM178.1 154.3h1.4v1.4h-1.4zM191.4 134.6h1.4v1.4h-1.4zM191.6 149.3h1.4v1.4h-1.4zM189.5 134.6h1.4v1.4h-1.4zM186.9 138.1h1.4v1.4h-1.4zM193.8 116.7h1.4v1.4h-1.4zM180.6 132.3h1.4v1.4h-1.4zM186.8 134.4h1.4v1.4h-1.4zM188.9 120.0h1.4v1.4h-1.4zM187.1 151.0h1.4v1.4h-1.4zM182.6 151.3h1.4v1.4h-1.4zM190.4 129.2h1.4v1.4h-1.4zM202.9 128.9h1.4v1.4h-1.4zM191.4 128.1h1.4v1.4h-1.4zM191.5 132.9h1.4v1.4h-1.4zM199.2 129.8h1.4v1.4h-1.4zM186.3 152.0h1.4v1.4h-1.4zM188.1 134.4h1.4v1.4h-1.4zM190.4 141.3h1.4v1.4h-1.4zM198.4 157.5h1.4v1.4h-1.4zM192.4 135.8h1.4v1.4h-1.4zM185.1 147.2h1.4v1.4h-1.4zM196.0 153.8h1.4v1.4h-1.4zM188.4 123.2h1.4v1.4h-1.4zM188.3 139.4h1.4v1.4h-1.4zM193.0 158.3h1.4v1.4h-1.4zM192.3 127.5h1.4v1.4h-1.4zM177.1 143.7h1.4v1.4h-1.4zM198.3 149.3h1.4v1.4h-1.4zM193.9 119.8h1.4v1.4h-1.4zM190.1 156.5h1.4v1.4h-1.4zM186.9 148.3h1.4v1.4h-1.4zM195.6 152.8h1.4v1.4h-1.4zM180.8 134.1h1.4v1.4h-1.4zM193.7 148.1h1.4v1.4h-1.4zM186.5 156.2h1.4v1.4h-1.4zM200.7 155.3h1.4v1.4h-1.4zM188.5 126.2h1.4v1.4h-1.4zM186.9 128.3h1.4v1.4h-1.4zM181.4 146.2h1.4v1.4h-1.4zM188.0 155.0h1.4v1.4h-1.4zM191.6 137.8h1.4v1.4h-1.4zM197.3 148.8h1.4v1.4h-1.4zM190.4 147.3h1.4v1.4h-1.4zM188.0 135.0h1.4v1.4h-1.4zM193.8 135.8h1.4v1.4h-1.4zM184.3 140.7h1.4v1.4h-1.4zM180.8 156.0h1.4v1.4h-1.4zM184.5 135.3h1.4v1.4h-1.4zM194.6 155.9h1.4v1.4h-1.4zM192.0 157.8h1.4v1.4h-1.4zM187.3 130.4h1.4v1.4h-1.4zM190.2 126.0h1.4v1.4h-1.4zM195.9 150.3h1.4v1.4h-1.4zM197.8 152.2h1.4v1.4h-1.4zM194.1 136.6h1.4v1.4h-1.4zM195.6 130.1h1.4v1.4h-1.4zM186.3 139.7h1.4v1.4h-1.4zM196.4 125.6h1.4v1.4h-1.4zM184.0 143.6h1.4v1.4h-1.4zM198.4 118.3h1.4v1.4h-1.4zM186.6 133.3h1.4v1.4h-1.4zM190.6 137.2h1.4v1.4h-1.4zM185.5 131.4h1.4v1.4h-1.4zM193.3 157.2h1.4v1.4h-1.4zM181.6 141.2h1.4v1.4h-1.4zM184.0 115.5h1.4v1.4h-1.4zM185.0 146.2h1.4v1.4h-1.4zM189.9 151.2h1.4v1.4h-1.4zM187.8 117.6h1.4v1.4h-1.4zM192.2 156.5h1.4v1.4h-1.4zM195.0 155.2h1.4v1.4h-1.4zM193.7 122.4h1.4v1.4h-1.4zM189.3 125.8h1.4v1.4h-1.4zM188.8 136.9h1.4v1.4h-1.4zM193.4 144.0h1.4v1.4h-1.4zM190.3 132.2h1.4v1.4h-1.4zM185.8 130.5h1.4v1.4h-1.4zM190.4 136.5h1.4v1.4h-1.4zM188.4 148.2h1.4v1.4h-1.4zM180.7 143.8h1.4v1.4h-1.4zM196.0 137.4h1.4v1.4h-1.4zM191.1 136.7h1.4v1.4h-1.4zM184.2 155.0h1.4v1.4h-1.4zM191.5 119.3h1.4v1.4h-1.4zM185.4 130.6h1.4v1.4h-1.4zM193.9 138.8h1.4v1.4h-1.4zM193.8 128.9h1.4v1.4h-1.4zM183.6 138.7h1.4v1.4h-1.4zM194.7 145.9h1.4v1.4h-1.4zM200.7 143.9h1.4v1.4h-1.4zM182.4 143.2h1.4v1.4h-1.4zM196.7 137.6h1.4v1.4h-1.4zM197.2 140.9h1.4v1.4h-1.4zM184.7 115.4h1.4v1.4h-1.4zM186.1 115.2h1.4v1.4h-1.4zM186.2 112.3h1.4v1.4h-1.4zM175.4 146.7h1.4v1.4h-1.4zM193.1 140.6h1.4v1.4h-1.4zM185.9 132.0h1.4v1.4h-1.4zM186.3 136.5h1.4v1.4h-1.4zM197.1 147.1h1.4v1.4h-1.4zM185.0 124.2h1.4v1.4h-1.4zM183.2 133.8h1.4v1.4h-1.4zM191.8 129.5h1.4v1.4h-1.4zM202.3 158.2h1.4v1.4h-1.4zM192.5 156.2h1.4v1.4h-1.4zM190.0 127.4h1.4v1.4h-1.4zM188.8 126.0h1.4v1.4h-1.4zM185.8 119.3h1.4v1.4h-1.4zM192.8 123.0h1.4v1.4h-1.4zM198.6 129.7h1.4v1.4h-1.4zM199.6 132.3h1.4v1.4h-1.4zM188.5 155.4h1.4v1.4h-1.4zM194.0 142.0h1.4v1.4h-1.4zM191.8 142.0h1.4v1.4h-1.4zM193.8 158.0h1.4v1.4h-1.4zM191.2 146.9h1.4v1.4h-1.4zM179.0 153.2h1.4v1.4h-1.4zM191.8 132.5h1.4v1.4h-1.4zM196.7 141.3h1.4v1.4h-1.4zM189.4 142.6h1.4v1.4h-1.4zM190.9 147.3h1.4v1.4h-1.4zM190.7 121.5h1.4v1.4h-1.4zM188.4 148.4h1.4v1.4h-1.4zM190.6 151.9h1.4v1.4h-1.4zM181.5 136.2h1.4v1.4h-1.4zM191.0 152.9h1.4v1.4h-1.4zM185.1 126.2h1.4v1.4h-1.4zM184.4 125.2h1.4v1.4h-1.4zM184.1 142.1h1.4v1.4h-1.4zM191.3 139.0h1.4v1.4h-1.4zM198.6 140.2h1.4v1.4h-1.4zM200.5 134.6h1.4v1.4h-1.4zM183.5 145.9h1.4v1.4h-1.4zM182.7 157.1h1.4v1.4h-1.4zM194.4 154.4h1.4v1.4h-1.4zM189.1 108.1h1.4v1.4h-1.4zM199.7 144.0h1.4v1.4h-1.4zM188.6 151.9h1.4v1.4h-1.4zM182.2 132.1h1.4v1.4h-1.4zM190.1 134.4h1.4v1.4h-1.4zM189.6 131.5h1.4v1.4h-1.4zM190.7 143.3h1.4v1.4h-1.4zM187.2 148.4h1.4v1.4h-1.4zM191.0 137.7h1.4v1.4h-1.4zM196.2 124.5h1.4v1.4h-1.4zM189.4 120.0h1.4v1.4h-1.4zM191.8 142.4h1.4v1.4h-1.4zM188.6 120.9h1.4v1.4h-1.4zM176.9 144.4h1.4v1.4h-1.4zM179.7 144.7h1.4v1.4h-1.4zM183.5 140.2h1.4v1.4h-1.4zM189.6 123.2h1.4v1.4h-1.4zM189.0 137.6h1.4v1.4h-1.4zM179.4 153.3h1.4v1.4h-1.4zM185.2 141.6h1.4v1.4h-1.4zM181.5 125.3h1.4v1.4h-1.4zM194.0 119.7h1.4v1.4h-1.4zM193.9 157.4h1.4v1.4h-1.4zM200.4 154.5h1.4v1.4h-1.4zM173.4 143.8h1.4v1.4h-1.4zM185.2 151.7h1.4v1.4h-1.4zM199.4 145.1h1.4v1.4h-1.4zM199.2 146.3h1.4v1.4h-1.4zM195.2 120.8h1.4v1.4h-1.4zM181.5 156.5h1.4v1.4h-1.4zM188.6 131.0h1.4v1.4h-1.4zM193.8 140.0h1.4v1.4h-1.4zM192.5 141.6h1.4v1.4h-1.4zM189.9 139.9h1.4v1.4h-1.4zM180.0 156.4h1.4v1.4h-1.4zM182.7 134.2h1.4v1.4h-1.4zM186.7 117.1h1.4v1.4h-1.4zM194.0 120.5h1.4v1.4h-1.4zM194.8 156.7h1.4v1.4h-1.4zM189.8 140.0h1.4v1.4h-1.4zM187.5 154.5h1.4v1.4h-1.4zM192.3 148.5h1.4v1.4h-1.4zM186.4 149.9h1.4v1.4h-1.4zM194.2 138.9h1.4v1.4h-1.4zM190.4 152.8h1.4v1.4h-1.4zM188.2 138.2h1.4v1.4h-1.4zM186.9 157.5h1.4v1.4h-1.4zM190.6 137.8h1.4v1.4h-1.4zM192.2 130.1h1.4v1.4h-1.4zM191.7 144.5h1.4v1.4h-1.4zM193.2 121.9h1.4v1.4h-1.4zM191.5 137.2h1.4v1.4h-1.4zM188.8 138.5h1.4v1.4h-1.4zM188.6 113.0h1.4v1.4h-1.4zM191.1 126.4h1.4v1.4h-1.4zM190.9 127.5h1.4v1.4h-1.4zM194.8 120.5h1.4v1.4h-1.4zM194.1 154.7h1.4v1.4h-1.4zM192.1 143.3h1.4v1.4h-1.4zM192.0 150.8h1.4v1.4h-1.4zM187.9 155.1h1.4v1.4h-1.4zM194.4 150.4h1.4v1.4h-1.4zM192.6 154.0h1.4v1.4h-1.4zM185.1 142.5h1.4v1.4h-1.4zM191.3 120.5h1.4v1.4h-1.4zM190.6 157.6h1.4v1.4h-1.4zM191.0 137.9h1.4v1.4h-1.4zM190.9 143.1h1.4v1.4h-1.4zM197.3 135.0h1.4v1.4h-1.4zM193.8 155.3h1.4v1.4h-1.4zM185.6 152.7h1.4v1.4h-1.4zM190.5 152.6h1.4v1.4h-1.4zM191.5 125.1h1.4v1.4h-1.4zM182.9 133.7h1.4v1.4h-1.4zM194.9 129.4h1.4v1.4h-1.4zM192.3 136.0h1.4v1.4h-1.4zM186.7 158.5h1.4v1.4h-1.4zM186.9 118.1h1.4v1.4h-1.4zM197.4 132.4h1.4v1.4h-1.4zM191.6 130.1h1.4v1.4h-1.4zM188.9 133.8h1.4v1.4h-1.4zM194.9 138.4h1.4v1.4h-1.4zM188.9 155.0h1.4v1.4h-1.4zM197.7 116.2h1.4v1.4h-1.4zM188.2 124.0h1.4v1.4h-1.4zM186.0 149.5h1.4v1.4h-1.4zM184.2 138.2h1.4v1.4h-1.4zM194.1 146.7h1.4v1.4h-1.4zM189.3 132.9h1.4v1.4h-1.4zM190.7 140.2h1.4v1.4h-1.4zM195.4 130.2h1.4v1.4h-1.4zM185.1 136.1h1.4v1.4h-1.4zM180.5 139.3h1.4v1.4h-1.4zM200.5 137.5h1.4v1.4h-1.4zM187.4 156.0h1.4v1.4h-1.4zM189.7 152.6h1.4v1.4h-1.4zM184.5 138.5h1.4v1.4h-1.4zM195.6 123.2h1.4v1.4h-1.4zM194.0 155.1h1.4v1.4h-1.4zM189.3 125.0h1.4v1.4h-1.4zM190.3 139.2h1.4v1.4h-1.4zM184.8 144.6h1.4v1.4h-1.4zM183.5 140.9h1.4v1.4h-1.4zM192.5 116.9h1.4v1.4h-1.4zM182.8 149.6h1.4v1.4h-1.4zM197.6 134.0h1.4v1.4h-1.4zM190.9 142.2h1.4v1.4h-1.4zM191.9 103.2h1.4v1.4h-1.4zM198.5 157.7h1.4v1.4h-1.4zM186.4 156.7h1.4v1.4h-1.4zM194.4 118.0h1.4v1.4h-1.4zM192.2 127.5h1.4v1.4h-1.4zM191.1 136.1h1.4v1.4h-1.4zM186.3 142.4h1.4v1.4h-1.4zM190.4 154.3h1.4v1.4h-1.4zM189.3 140.2h1.4v1.4h-1.4zM185.9 146.4h1.4v1.4h-1.4zM190.5 146.8h1.4v1.4h-1.4zM192.9 138.5h1.4v1.4h-1.4zM187.3 133.7h1.4v1.4h-1.4zM187.1 130.7h1.4v1.4h-1.4zM180.3 137.1h1.4v1.4h-1.4zM181.5 138.4h1.4v1.4h-1.4zM187.0 144.9h1.4v1.4h-1.4zM175.1 146.3h1.4v1.4h-1.4zM200.3 129.6h1.4v1.4h-1.4zM185.9 126.5h1.4v1.4h-1.4zM188.8 130.0h1.4v1.4h-1.4zM182.9 145.1h1.4v1.4h-1.4zM188.4 127.8h1.4v1.4h-1.4zM186.4 141.4h1.4v1.4h-1.4zM199.4 121.1h1.4v1.4h-1.4zM183.9 135.8h1.4v1.4h-1.4zM190.0 126.1h1.4v1.4h-1.4zM191.9 157.4h1.4v1.4h-1.4zM199.4 135.9h1.4v1.4h-1.4zM194.4 144.9h1.4v1.4h-1.4zM192.0 144.7h1.4v1.4h-1.4zM191.6 148.6h1.4v1.4h-1.4zM192.8 124.3h1.4v1.4h-1.4zM193.4 156.8h1.4v1.4h-1.4zM175.2 152.1h1.4v1.4h-1.4zM192.8 134.9h1.4v1.4h-1.4zM189.9 126.7h1.4v1.4h-1.4zM188.0 119.2h1.4v1.4h-1.4zM193.5 157.9h1.4v1.4h-1.4zM187.3 119.3h1.4v1.4h-1.4zM194.2 123.9h1.4v1.4h-1.4zM184.2 135.1h1.4v1.4h-1.4zM196.7 155.6h1.4v1.4h-1.4zM183.6 121.3h1.4v1.4h-1.4zM191.6 121.5h1.4v1.4h-1.4zM200.3 123.4h1.4v1.4h-1.4zM190.7 151.8h1.4v1.4h-1.4zM203.9 146.8h1.4v1.4h-1.4zM192.0 142.3h1.4v1.4h-1.4zM185.9 138.0h1.4v1.4h-1.4zM184.8 149.0h1.4v1.4h-1.4zM188.9 147.8h1.4v1.4h-1.4zM192.6 149.2h1.4v1.4h-1.4zM187.9 154.8h1.4v1.4h-1.4zM202.0 139.3h1.4v1.4h-1.4zM193.6 131.6h1.4v1.4h-1.4zM191.4 145.5h1.4v1.4h-1.4zM193.3 113.8h1.4v1.4h-1.4zM191.0 118.5h1.4v1.4h-1.4zM186.0 143.1h1.4v1.4h-1.4zM194.3 126.5h1.4v1.4h-1.4zM175.9 152.2h1.4v1.4h-1.4zM185.5 152.5h1.4v1.4h-1.4zM201.3 133.1h1.4v1.4h-1.4zM183.4 134.0h1.4v1.4h-1.4zM189.4 138.6h1.4v1.4h-1.4zM196.6 120.6h1.4v1.4h-1.4zM188.3 124.7h1.4v1.4h-1.4zM181.4 124.5h1.4v1.4h-1.4zM188.5 145.9h1.4v1.4h-1.4zM204.4 146.7h1.4v1.4h-1.4zM180.1 124.8h1.4v1.4h-1.4zM191.7 141.2h1.4v1.4h-1.4zM194.5 128.8h1.4v1.4h-1.4zM191.3 158.5h1.4v1.4h-1.4zM186.5 153.2h1.4v1.4h-1.4zM181.3 144.2h1.4v1.4h-1.4zM195.7 111.3h1.4v1.4h-1.4zM201.0 128.9h1.4v1.4h-1.4zM182.3 129.4h1.4v1.4h-1.4zM183.1 132.3h1.4v1.4h-1.4zM183.9 124.2h1.4v1.4h-1.4zM188.2 124.0h1.4v1.4h-1.4zM190.7 141.7h1.4v1.4h-1.4zM180.8 129.7h1.4v1.4h-1.4zM182.2 141.9h1.4v1.4h-1.4zM188.6 141.4h1.4v1.4h-1.4zM201.7 154.0h1.4v1.4h-1.4zM192.2 155.2h1.4v1.4h-1.4zM191.4 146.4h1.4v1.4h-1.4zM192.5 135.8h1.4v1.4h-1.4zM193.3 127.0h1.4v1.4h-1.4zM191.3 134.2h1.4v1.4h-1.4zM192.3 140.7h1.4v1.4h-1.4zM186.4 123.0h1.4v1.4h-1.4zM192.8 140.1h1.4v1.4h-1.4zM195.7 133.1h1.4v1.4h-1.4zM182.2 153.8h1.4v1.4h-1.4zM183.5 124.7h1.4v1.4h-1.4zM187.2 142.7h1.4v1.4h-1.4zM182.5 149.7h1.4v1.4h-1.4zM185.6 131.7h1.4v1.4h-1.4zM195.5 152.4h1.4v1.4h-1.4zM191.0 127.5h1.4v1.4h-1.4zM195.7 119.8h1.4v1.4h-1.4zM187.0 127.4h1.4v1.4h-1.4zM191.0 122.0h1.4v1.4h-1.4zM186.9 121.0h1.4v1.4h-1.4zM185.0 131.1h1.4v1.4h-1.4zM200.0 142.6h1.4v1.4h-1.4zM177.1 153.2h1.4v1.4h-1.4zM186.8 124.8h1.4v1.4h-1.4zM188.2 143.5h1.4v1.4h-1.4zM192.0 150.9h1.4v1.4h-1.4zM192.2 134.5h1.4v1.4h-1.4zM190.7 141.1h1.4v1.4h-1.4zM179.3 139.0h1.4v1.4h-1.4zM200.5 124.9h1.4v1.4h-1.4zM189.2 157.0h1.4v1.4h-1.4zM186.6 139.5h1.4v1.4h-1.4zM185.4 125.2h1.4v1.4h-1.4zM187.1 151.4h1.4v1.4h-1.4zM197.9 119.1h1.4v1.4h-1.4zM186.0 153.4h1.4v1.4h-1.4zM198.2 121.8h1.4v1.4h-1.4zM190.5 145.8h1.4v1.4h-1.4zM183.3 123.6h1.4v1.4h-1.4zM186.0 155.9h1.4v1.4h-1.4zM186.8 135.6h1.4v1.4h-1.4zM193.6 152.8h1.4v1.4h-1.4zM199.5 145.9h1.4v1.4h-1.4zM189.7 128.1h1.4v1.4h-1.4zM199.5 153.9h1.4v1.4h-1.4zM186.0 133.1h1.4v1.4h-1.4zM192.5 133.9h1.4v1.4h-1.4zM189.1 145.2h1.4v1.4h-1.4zM193.0 115.5h1.4v1.4h-1.4zM185.4 142.2h1.4v1.4h-1.4zM196.0 142.5h1.4v1.4h-1.4zM194.3 141.9h1.4v1.4h-1.4zM180.8 137.9h1.4v1.4h-1.4zM200.2 155.1h1.4v1.4h-1.4zM193.1 124.4h1.4v1.4h-1.4zM182.3 126.1h1.4v1.4h-1.4zM190.2 127.1h1.4v1.4h-1.4zM186.8 139.4h1.4v1.4h-1.4zM190.0 157.8h1.4v1.4h-1.4zM187.0 136.9h1.4v1.4h-1.4zM183.5 152.1h1.4v1.4h-1.4zM191.7 141.8h1.4v1.4h-1.4zM193.0 147.5h1.4v1.4h-1.4zM194.7 119.0h1.4v1.4h-1.4zM191.2 154.3h1.4v1.4h-1.4zM185.7 153.3h1.4v1.4h-1.4zM200.5 152.9h1.4v1.4h-1.4zM188.3 136.5h1.4v1.4h-1.4zM201.2 149.9h1.4v1.4h-1.4zM198.0 146.9h1.4v1.4h-1.4zM179.1 143.3h1.4v1.4h-1.4zM192.8 156.2h1.4v1.4h-1.4zM191.7 132.0h1.4v1.4h-1.4zM192.6 127.0h1.4v1.4h-1.4zM187.3 132.0h1.4v1.4h-1.4zM188.3 151.7h1.4v1.4h-1.4zM195.3 156.1h1.4v1.4h-1.4zM196.4 156.5h1.4v1.4h-1.4zM194.0 131.6h1.4v1.4h-1.4zM190.9 136.5h1.4v1.4h-1.4zM180.5 155.4h1.4v1.4h-1.4zM201.5 136.7h1.4v1.4h-1.4zM184.9 150.3h1.4v1.4h-1.4zM196.2 131.9h1.4v1.4h-1.4zM194.4 129.2h1.4v1.4h-1.4zM182.4 139.7h1.4v1.4h-1.4zM190.1 158.0h1.4v1.4h-1.4zM189.8 156.7h1.4v1.4h-1.4zM179.3 132.8h1.4v1.4h-1.4zM196.7 134.1h1.4v1.4h-1.4zM195.6 129.7h1.4v1.4h-1.4zM188.9 140.5h1.4v1.4h-1.4zM198.0 148.4h1.4v1.4h-1.4zM194.1 115.1h1.4v1.4h-1.4zM198.7 155.7h1.4v1.4h-1.4zM189.9 137.9h1.4v1.4h-1.4zM181.9 142.2h1.4v1.4h-1.4zM196.1 114.2h1.4v1.4h-1.4zM194.0 134.0h1.4v1.4h-1.4zM196.1 133.2h1.4v1.4h-1.4zM191.8 123.6h1.4v1.4h-1.4zM190.4 124.1h1.4v1.4h-1.4zM192.2 144.0h1.4v1.4h-1.4zM187.2 122.1h1.4v1.4h-1.4zM184.6 144.5h1.4v1.4h-1.4zM181.9 125.9h1.4v1.4h-1.4zM191.2 154.0h1.4v1.4h-1.4zM191.8 124.2h1.4v1.4h-1.4zM190.3 129.5h1.4v1.4h-1.4zM192.5 117.2h1.4v1.4h-1.4zM186.9 153.1h1.4v1.4h-1.4zM191.8 149.4h1.4v1.4h-1.4zM189.9 119.0h1.4v1.4h-1.4zM181.6 129.4h1.4v1.4h-1.4zM188.8 138.8h1.4v1.4h-1.4zM187.9 152.7h1.4v1.4h-1.4zM187.8 139.9h1.4v1.4h-1.4zM194.3 138.9h1.4v1.4h-1.4zM187.8 122.8h1.4v1.4h-1.4zM191.7 157.9h1.4v1.4h-1.4zM187.2 128.1h1.4v1.4h-1.4zM183.9 147.1h1.4v1.4h-1.4zM186.9 154.6h1.4v1.4h-1.4zM190.7 127.8h1.4v1.4h-1.4zM175.5 139.8h1.4v1.4h-1.4zM182.3 146.7h1.4v1.4h-1.4zM184.6 118.2h1.4v1.4h-1.4zM186.3 125.1h1.4v1.4h-1.4zM197.1 150.5h1.4v1.4h-1.4zM200.4 141.7h1.4v1.4h-1.4zM191.5 121.6h1.4v1.4h-1.4zM190.2 158.3h1.4v1.4h-1.4zM195.6 153.1h1.4v1.4h-1.4zM184.1 156.7h1.4v1.4h-1.4zM192.6 155.4h1.4v1.4h-1.4zM196.1 127.7h1.4v1.4h-1.4zM187.5 121.2h1.4v1.4h-1.4zM188.2 129.0h1.4v1.4h-1.4zM185.4 138.5h1.4v1.4h-1.4zM189.2 144.8h1.4v1.4h-1.4zM190.3 145.5h1.4v1.4h-1.4zM202.5 129.4h1.4v1.4h-1.4zM180.4 141.2h1.4v1.4h-1.4zM191.0 120.3h1.4v1.4h-1.4zM191.3 142.6h1.4v1.4h-1.4zM200.8 137.9h1.4v1.4h-1.4zM189.9 136.8h1.4v1.4h-1.4zM191.7 120.5h1.4v1.4h-1.4zM182.6 156.2h1.4v1.4h-1.4zM176.3 146.9h1.4v1.4h-1.4zM192.1 119.0h1.4v1.4h-1.4zM182.0 128.0h1.4v1.4h-1.4zM197.3 141.4h1.4v1.4h-1.4zM182.2 125.1h1.4v1.4h-1.4zM197.9 149.7h1.4v1.4h-1.4zM182.1 124.4h1.4v1.4h-1.4zM199.8 145.0h1.4v1.4h-1.4zM197.4 125.2h1.4v1.4h-1.4zM196.1 134.4h1.4v1.4h-1.4zM190.8 121.6h1.4v1.4h-1.4zM199.3 136.2h1.4v1.4h-1.4zM191.4 135.4h1.4v1.4h-1.4zM183.4 153.1h1.4v1.4h-1.4zM187.5 118.2h1.4v1.4h-1.4zM193.2 134.8h1.4v1.4h-1.4zM192.3 121.4h1.4v1.4h-1.4zM188.9 146.4h1.4v1.4h-1.4zM200.7 145.3h1.4v1.4h-1.4zM191.0 131.6h1.4v1.4h-1.4zM188.8 111.6h1.4v1.4h-1.4zM186.6 121.0h1.4v1.4h-1.4zM190.0 140.8h1.4v1.4h-1.4zM183.1 157.4h1.4v1.4h-1.4zM189.9 120.3h1.4v1.4h-1.4zM189.7 135.6h1.4v1.4h-1.4zM192.7 155.8h1.4v1.4h-1.4zM185.1 130.7h1.4v1.4h-1.4zM197.3 119.1h1.4v1.4h-1.4zM187.2 155.9h1.4v1.4h-1.4zM192.3 138.4h1.4v1.4h-1.4zM191.1 125.6h1.4v1.4h-1.4zM199.0 126.2h1.4v1.4h-1.4zM187.0 156.2h1.4v1.4h-1.4zM184.8 127.1h1.4v1.4h-1.4zM188.2 140.3h1.4v1.4h-1.4zM187.6 135.5h1.4v1.4h-1.4zM187.4 129.3h1.4v1.4h-1.4zM189.3 127.8h1.4v1.4h-1.4zM182.3 139.4h1.4v1.4h-1.4zM183.4 133.0h1.4v1.4h-1.4zM182.7 125.3h1.4v1.4h-1.4zM187.3 120.7h1.4v1.4h-1.4zM188.5 156.7h1.4v1.4h-1.4zM187.8 135.4h1.4v1.4h-1.4zM189.5 154.6h1.4v1.4h-1.4zM185.4 149.3h1.4v1.4h-1.4zM203.0 148.3h1.4v1.4h-1.4zM191.2 125.2h1.4v1.4h-1.4zM192.9 140.0h1.4v1.4h-1.4zM187.1 152.5h1.4v1.4h-1.4zM192.9 136.1h1.4v1.4h-1.4zM194.5 152.9h1.4v1.4h-1.4zM191.6 157.9h1.4v1.4h-1.4zM185.4 154.1h1.4v1.4h-1.4zM201.9 142.6h1.4v1.4h-1.4zM197.3 131.9h1.4v1.4h-1.4zM188.1 150.3h1.4v1.4h-1.4zM183.7 145.8h1.4v1.4h-1.4zM188.1 148.5h1.4v1.4h-1.4zM184.4 155.8h1.4v1.4h-1.4zM199.1 129.3h1.4v1.4h-1.4zM191.9 143.3h1.4v1.4h-1.4zM186.2 120.2h1.4v1.4h-1.4zM198.3 138.2h1.4v1.4h-1.4zM195.6 130.2h1.4v1.4h-1.4zM187.2 129.2h1.4v1.4h-1.4zM184.5 136.8h1.4v1.4h-1.4zM195.4 131.9h1.4v1.4h-1.4zM191.1 136.2h1.4v1.4h-1.4zM185.2 150.3h1.4v1.4h-1.4zM181.8 139.4h1.4v1.4h-1.4zM193.7 155.7h1.4v1.4h-1.4zM178.0 105.0h1.4v1.4h-1.4zM197.5 104.0h1.4v1.4h-1.4zM181.0 109.0h1.4v1.4h-1.4zM176.5 135.0h1.4v1.4h-1.4zM177.0 146.0h1.4v1.4h-1.4zM207.0 141.0h1.4v1.4h-1.4zM204.0 133.0h1.4v1.4h-1.4zM205.0 128.0h1.4v1.4h-1.4zM178.0 121.0h1.4v1.4h-1.4zM192.0 99.0h1.4v1.4h-1.4zM186.0 113.0h1.4v1.4h-1.4z" fill="#454545"/>
<path d="M193.0 142.7h1.2v1.2h-1.2zM192.7 133.7h1.2v1.2h-1.2zM192.4 139.7h1.2v1.2h-1.2zM194.4 133.7h1.2v1.2h-1.2zM192.6 134.7h1.2v1.2h-1.2zM193.4 141.9h1.2v1.2h-1.2zM190.7 142.6h1.2v1.2h-1.2zM191.7 150.9h1.2v1.2h-1.2zM194.8 135.0h1.2v1.2h-1.2zM192.3 131.0h1.2v1.2h-1.2zM192.2 143.4h1.2v1.2h-1.2zM190.5 135.4h1.2v1.2h-1.2zM192.2 148.2h1.2v1.2h-1.2zM191.0 135.7h1.2v1.2h-1.2zM190.4 139.3h1.2v1.2h-1.2zM191.2 142.0h1.2v1.2h-1.2zM193.6 147.3h1.2v1.2h-1.2zM192.7 133.8h1.2v1.2h-1.2zM190.1 132.5h1.2v1.2h-1.2zM191.4 151.0h1.2v1.2h-1.2zM192.3 136.2h1.2v1.2h-1.2zM191.7 132.1h1.2v1.2h-1.2zM192.0 142.2h1.2v1.2h-1.2zM192.5 136.3h1.2v1.2h-1.2zM191.6 139.3h1.2v1.2h-1.2zM193.3 149.7h1.2v1.2h-1.2zM191.9 135.6h1.2v1.2h-1.2zM191.4 130.2h1.2v1.2h-1.2zM191.7 147.4h1.2v1.2h-1.2zM192.5 149.5h1.2v1.2h-1.2zM192.8 130.9h1.2v1.2h-1.2zM192.0 148.9h1.2v1.2h-1.2zM189.6 139.8h1.2v1.2h-1.2zM193.5 137.8h1.2v1.2h-1.2zM194.6 142.8h1.2v1.2h-1.2zM193.3 141.0h1.2v1.2h-1.2zM190.1 150.8h1.2v1.2h-1.2zM192.8 141.9h1.2v1.2h-1.2zM192.5 152.3h1.2v1.2h-1.2zM193.1 140.2h1.2v1.2h-1.2zM191.2 141.5h1.2v1.2h-1.2zM190.7 144.4h1.2v1.2h-1.2zM192.0 151.6h1.2v1.2h-1.2zM193.5 132.0h1.2v1.2h-1.2zM190.3 154.5h1.2v1.2h-1.2zM193.8 130.3h1.2v1.2h-1.2zM190.8 151.1h1.2v1.2h-1.2zM190.8 141.7h1.2v1.2h-1.2zM192.7 147.8h1.2v1.2h-1.2zM192.7 148.2h1.2v1.2h-1.2zM192.5 146.4h1.2v1.2h-1.2zM193.7 146.4h1.2v1.2h-1.2zM193.3 138.1h1.2v1.2h-1.2zM192.2 144.9h1.2v1.2h-1.2zM191.7 146.8h1.2v1.2h-1.2zM192.5 137.2h1.2v1.2h-1.2zM192.3 143.6h1.2v1.2h-1.2zM191.0 150.2h1.2v1.2h-1.2zM193.5 131.7h1.2v1.2h-1.2zM193.3 153.4h1.2v1.2h-1.2zM193.9 139.2h1.2v1.2h-1.2zM192.3 134.5h1.2v1.2h-1.2zM190.9 140.4h1.2v1.2h-1.2zM192.9 133.1h1.2v1.2h-1.2zM191.0 154.2h1.2v1.2h-1.2zM191.9 139.6h1.2v1.2h-1.2zM191.2 154.2h1.2v1.2h-1.2zM192.3 138.0h1.2v1.2h-1.2zM190.6 139.8h1.2v1.2h-1.2zM190.2 148.9h1.2v1.2h-1.2zM191.9 131.1h1.2v1.2h-1.2zM192.6 141.2h1.2v1.2h-1.2zM192.6 141.0h1.2v1.2h-1.2zM191.4 149.1h1.2v1.2h-1.2zM191.9 143.0h1.2v1.2h-1.2zM192.7 140.6h1.2v1.2h-1.2zM194.4 136.0h1.2v1.2h-1.2zM191.0 144.0h1.2v1.2h-1.2zM191.7 141.1h1.2v1.2h-1.2zM192.2 152.9h1.2v1.2h-1.2zM191.5 147.8h1.2v1.2h-1.2zM193.5 131.6h1.2v1.2h-1.2zM192.5 137.5h1.2v1.2h-1.2zM191.7 147.9h1.2v1.2h-1.2zM193.2 133.2h1.2v1.2h-1.2zM192.1 141.8h1.2v1.2h-1.2zM192.7 135.6h1.2v1.2h-1.2zM192.1 132.0h1.2v1.2h-1.2zM192.7 142.9h1.2v1.2h-1.2zM192.4 133.4h1.2v1.2h-1.2z" fill="#8c8c8c"/>
<text x="175.9" y="91.1" font-size="13" textLength="35.2" lengthAdjust="spacingAndGlyphs">Top 2%</text>
<text x="179.6" y="189.6" font-size="13.3" textLength="27.2" lengthAdjust="spacingAndGlyphs">CD4</text>
<text transform="translate(107.05,122.2) rotate(-90)" font-size="14.3" textLength="34.6" lengthAdjust="spacingAndGlyphs">CD25</text>
<text x="152.7" y="173.6" font-size="11.6" textLength="9.9" lengthAdjust="spacingAndGlyphs">10</text>
<text x="162.7" y="169.6" font-size="7.8" textLength="3.8" lengthAdjust="spacingAndGlyphs">1</text>
<text x="182.2" y="173.6" font-size="11.6" textLength="9.9" lengthAdjust="spacingAndGlyphs">10</text>
<text x="192.2" y="169.6" font-size="7.8" textLength="3.8" lengthAdjust="spacingAndGlyphs">2</text>
<text x="212.7" y="173.6" font-size="11.6" textLength="9.9" lengthAdjust="spacingAndGlyphs">10</text>
<text x="222.7" y="169.6" font-size="7.8" textLength="3.8" lengthAdjust="spacingAndGlyphs">3</text>
<text x="242.7" y="173.6" font-size="11.6" textLength="9.9" lengthAdjust="spacingAndGlyphs">10</text>
<text x="252.7" y="169.6" font-size="7.8" textLength="3.8" lengthAdjust="spacingAndGlyphs">4</text>
<g transform="translate(126,144) rotate(-90)"><text x="0" y="0" font-size="12" textLength="9" lengthAdjust="spacingAndGlyphs">10</text><text x="9.3" y="-4.2" font-size="7.8" textLength="3.8" lengthAdjust="spacingAndGlyphs">1</text></g>
<g transform="translate(126,118.5) rotate(-90)"><text x="0" y="0" font-size="12" textLength="9" lengthAdjust="spacingAndGlyphs">10</text><text x="9.3" y="-4.2" font-size="7.8" textLength="3.8" lengthAdjust="spacingAndGlyphs">2</text></g>
<g transform="translate(126,93) rotate(-90)"><text x="0" y="0" font-size="12" textLength="9" lengthAdjust="spacingAndGlyphs">10</text><text x="9.3" y="-4.2" font-size="7.8" textLength="3.8" lengthAdjust="spacingAndGlyphs">3</text></g>
<g transform="translate(126,67.7) rotate(-90)"><text x="0" y="0" font-size="12" textLength="9" lengthAdjust="spacingAndGlyphs">10</text><text x="9.3" y="-4.2" font-size="7.8" textLength="3.8" lengthAdjust="spacingAndGlyphs">4</text></g>
<text transform="translate(-0.5,241.5) scale(0.9,1)" font-size="31">B</text>
<line x1="97.5" y1="242.1" x2="97.5" y2="444.3" stroke-width="2.1"/>
<line x1="91.7" y1="443.3" x2="398.8" y2="443.3" stroke-width="2.1"/>
<line x1="91" y1="443.3" x2="97.5" y2="443.3" stroke-width="2.1"/>
<text x="88.4" y="447.8" font-size="18" text-anchor="end">0</text>
<line x1="91" y1="393.2" x2="97.5" y2="393.2" stroke-width="2.1"/>
<text x="88.4" y="397.7" font-size="18" text-anchor="end">25</text>
<line x1="91" y1="343.1" x2="97.5" y2="343.1" stroke-width="2.1"/>
<text x="88.4" y="347.6" font-size="18" text-anchor="end">50</text>
<line x1="91" y1="293.0" x2="97.5" y2="293.0" stroke-width="2.1"/>
<text x="88.4" y="297.5" font-size="18" text-anchor="end">75</text>
<line x1="91" y1="242.9" x2="97.5" y2="242.9" stroke-width="2.1"/>
<text x="88.4" y="247.4" font-size="18" text-anchor="end">100</text>
<line x1="97.6" y1="443" x2="97.6" y2="449.8" stroke-width="2"/>
<text x="97.6" y="468.5" font-size="18" text-anchor="middle">0</text>
<line x1="157.75" y1="443" x2="157.75" y2="449.8" stroke-width="2"/>
<text x="157.75" y="468.5" font-size="18" text-anchor="middle">1</text>
<line x1="217.89999999999998" y1="443" x2="217.89999999999998" y2="449.8" stroke-width="2"/>
<text x="217.89999999999998" y="468.5" font-size="18" text-anchor="middle">2</text>
<line x1="278.04999999999995" y1="443" x2="278.04999999999995" y2="449.8" stroke-width="2"/>
<text x="278.04999999999995" y="468.5" font-size="18" text-anchor="middle">3</text>
<line x1="338.2" y1="443" x2="338.2" y2="449.8" stroke-width="2"/>
<text x="338.2" y="468.5" font-size="18" text-anchor="middle">4</text>
<line x1="398.35" y1="443" x2="398.35" y2="449.8" stroke-width="2"/>
<text x="398.35" y="468.5" font-size="18" text-anchor="middle">5</text>
<text x="230.1" y="489.6" font-size="18" textLength="44.5" lengthAdjust="spacingAndGlyphs">Days</text>
<text transform="translate(49.3,342.6) rotate(-90)" font-size="21" text-anchor="middle" textLength="228.2" lengthAdjust="spacingAndGlyphs">%FOXP3 of CD4+CD25</text>
<polyline points="97.6,287.7 217.9,332.5 338.2,412" fill="none" stroke="#000" stroke-width="2.35"/>
<polyline points="97.6,287.7 217.9,274.2 338.2,311.5" fill="none" stroke="#000" stroke-width="2.35"/>
<polyline points="97.6,310.8 217.9,355.6 338.2,436.5" fill="none" stroke="#000" stroke-width="2.35" stroke-dasharray="4.9 4.2" stroke-dashoffset="1.7"/>
<polyline points="97.6,310.8 217.9,286.9 338.2,397.7" fill="none" stroke="#000" stroke-width="2.35" stroke-dasharray="4.9 4.2" stroke-dashoffset="1.7"/>
<rect x="92.10" y="282.20" width="11" height="11" fill="#000"/>
<rect x="212.40" y="327.00" width="11" height="11" fill="#000"/>
<rect x="332.70" y="406.50" width="11" height="11" fill="#000"/>
<rect x="93.35" y="283.45" width="8.5" height="8.5" fill="none" stroke="#000" stroke-width="2.1"/>
<rect x="213.65" y="269.95" width="8.5" height="8.5" fill="none" stroke="#000" stroke-width="2.1"/>
<rect x="333.95" y="307.25" width="8.5" height="8.5" fill="none" stroke="#000" stroke-width="2.1"/>
<circle cx="97.6" cy="310.8" r="5.5" fill="#000"/>
<circle cx="217.9" cy="355.6" r="5.5" fill="#000"/>
<circle cx="338.2" cy="436.5" r="5.5" fill="#000"/>
<circle cx="97.6" cy="310.8" r="4.3" fill="none" stroke="#000" stroke-width="2.1"/>
<circle cx="217.9" cy="286.9" r="4.3" fill="none" stroke="#000" stroke-width="2.1"/>
<circle cx="338.2" cy="397.7" r="3.2" fill="#fff"/>
<circle cx="338.2" cy="397.7" r="4.3" fill="none" stroke="#000" stroke-width="2.1"/>
<line x1="383" y1="241.1" x2="414.7" y2="241.1" stroke-width="2"/>
<rect x="392.30" y="235.70" width="10.6" height="10.6" fill="#000"/>
<line x1="383" y1="260" x2="414.7" y2="260" stroke-width="2"/>
<rect x="393.70" y="255.45" width="8.6" height="8.6" fill="none" stroke="#000" stroke-width="1.9"/>
<line x1="382.5" y1="284.9" x2="387.4" y2="284.9" stroke-width="2.1"/>
<line x1="391.6" y1="284.9" x2="396.2" y2="284.9" stroke-width="2.1"/>
<line x1="400.6" y1="284.9" x2="405.5" y2="284.9" stroke-width="2.1"/>
<line x1="410" y1="284.9" x2="414.5" y2="284.9" stroke-width="2.1"/>
<line x1="382.5" y1="306.7" x2="387.4" y2="306.7" stroke-width="2.1"/>
<line x1="391.6" y1="306.7" x2="396.2" y2="306.7" stroke-width="2.1"/>
<line x1="400.6" y1="306.7" x2="405.5" y2="306.7" stroke-width="2.1"/>
<line x1="410" y1="306.7" x2="414.5" y2="306.7" stroke-width="2.1"/>
<circle cx="397.6" cy="284.9" r="5.6" fill="#000"/>
<circle cx="397.5" cy="306.7" r="4.35" fill="none" stroke="#000" stroke-width="2.0"/>
<text x="418.8" y="247.6" font-size="18" textLength="100" lengthAdjust="spacingAndGlyphs">Cntrl media</text>
<text x="418.8" y="266.9" font-size="18" textLength="81" lengthAdjust="spacingAndGlyphs">Cntrl IL-2</text>
<text x="417.9" y="291.6" font-size="18" textLength="95.8" lengthAdjust="spacingAndGlyphs">T1D media</text>
<text x="417.9" y="313.3" font-size="18" textLength="74.6" lengthAdjust="spacingAndGlyphs">T1D IL-2</text>
<text transform="translate(-0.4,543.6) scale(0.92,1)" font-size="31.5">C</text>
<line x1="98.5" y1="559.9" x2="98.5" y2="801.3" stroke-width="2"/>
<line x1="90.5" y1="800.5" x2="457.3" y2="800.5" stroke-width="2.1"/>
<line x1="90.5" y1="560.87" x2="98.5" y2="560.87" stroke-width="2.1"/>
<text x="87.8" y="567.07" font-size="18" text-anchor="end">10</text>
<line x1="90.5" y1="590.8" x2="98.5" y2="590.8" stroke-width="2.1"/>
<text x="87.8" y="597.0" font-size="18" text-anchor="end">0</text>
<line x1="90.5" y1="620.7299999999999" x2="98.5" y2="620.7299999999999" stroke-width="2.1"/>
<text x="87.8" y="626.93" font-size="18" text-anchor="end">-10</text>
<line x1="90.5" y1="650.66" x2="98.5" y2="650.66" stroke-width="2.1"/>
<text x="87.8" y="656.86" font-size="18" text-anchor="end">-20</text>
<line x1="90.5" y1="680.5899999999999" x2="98.5" y2="680.5899999999999" stroke-width="2.1"/>
<text x="87.8" y="686.79" font-size="18" text-anchor="end">-30</text>
<line x1="90.5" y1="710.52" x2="98.5" y2="710.52" stroke-width="2.1"/>
<text x="87.8" y="716.72" font-size="18" text-anchor="end">-40</text>
<line x1="90.5" y1="740.4499999999999" x2="98.5" y2="740.4499999999999" stroke-width="2.1"/>
<text x="87.8" y="746.65" font-size="18" text-anchor="end">-50</text>
<line x1="90.5" y1="770.3799999999999" x2="98.5" y2="770.3799999999999" stroke-width="2.1"/>
<text x="87.8" y="776.5799999999999" font-size="18" text-anchor="end">-60</text>
<line x1="90.5" y1="800.31" x2="98.5" y2="800.31" stroke-width="2.1"/>
<text x="87.8" y="806.51" font-size="18" text-anchor="end">-70</text>
<line x1="120.7" y1="800.5" x2="120.7" y2="808.3" stroke-width="2.1"/>
<line x1="165.5" y1="800.5" x2="165.5" y2="808.3" stroke-width="2.1"/>
<line x1="210.3" y1="800.5" x2="210.3" y2="808.3" stroke-width="2.1"/>
<line x1="255.09999999999997" y1="800.5" x2="255.09999999999997" y2="808.3" stroke-width="2.1"/>
<line x1="299.9" y1="800.5" x2="299.9" y2="808.3" stroke-width="2.1"/>
<line x1="344.7" y1="800.5" x2="344.7" y2="808.3" stroke-width="2.1"/>
<line x1="389.49999999999994" y1="800.5" x2="389.49999999999994" y2="808.3" stroke-width="2.1"/>
<line x1="434.29999999999995" y1="800.5" x2="434.29999999999995" y2="808.3" stroke-width="2.1"/>
<text x="98.2" y="823.6" font-size="18" textLength="44.6" lengthAdjust="spacingAndGlyphs">Cntrl</text>
<text x="149" y="823.6" font-size="18" textLength="37.3" lengthAdjust="spacingAndGlyphs">T1D</text>
<text x="232.6" y="823.6" font-size="18" textLength="44.1" lengthAdjust="spacingAndGlyphs">Cntrl</text>
<text x="281.8" y="823.6" font-size="18" textLength="36.6" lengthAdjust="spacingAndGlyphs">T1D</text>
<text x="366.4" y="823.6" font-size="18" textLength="44.3" lengthAdjust="spacingAndGlyphs">Cntrl</text>
<text x="420.7" y="823.6" font-size="18" textLength="34.2" lengthAdjust="spacingAndGlyphs">T1D</text>
<line x1="105.5" y1="836.4" x2="177" y2="836.4" stroke-width="2.2"/>
<line x1="241.8" y1="836.7" x2="313.8" y2="836.7" stroke-width="2.2"/>
<line x1="375.3" y1="835.8" x2="443.2" y2="835.8" stroke-width="2.2"/>
<text x="111.7" y="860.5" font-size="18" textLength="55.2" lengthAdjust="spacingAndGlyphs">media</text>
<text x="260.9" y="861.2" font-size="18" textLength="34.6" lengthAdjust="spacingAndGlyphs">IL-2</text>
<text x="395.8" y="861.2" font-size="18" textLength="31.8" lengthAdjust="spacingAndGlyphs">IL-7</text>
<text x="136.8" y="600.8" font-size="18" textLength="22.3" lengthAdjust="spacingAndGlyphs">ns</text>
<line x1="119.2" y1="610.2" x2="177.3" y2="610.2" stroke-width="2"/>
<text x="234.3" y="554.1" font-size="17.5" textLength="77.3" lengthAdjust="spacingAndGlyphs">p=0.0125</text>
<line x1="236.6" y1="564.6" x2="310.5" y2="564.6" stroke-width="2"/>
<text x="399.2" y="560.8" font-size="18" textLength="22.2" lengthAdjust="spacingAndGlyphs">ns</text>
<line x1="380" y1="568.8" x2="440" y2="568.8" stroke-width="2"/>
<text transform="translate(21.8,678.4) rotate(-90)" font-size="20.5" text-anchor="middle" textLength="245.2" lengthAdjust="spacingAndGlyphs">Δ% FOXP3 of CD4+CD25</text>
<text transform="translate(46.7,680.6) rotate(-90)" font-size="20" text-anchor="middle" textLength="117.3" lengthAdjust="spacingAndGlyphs">(Day4-Day0)</text>
<polygon points="120.8,627.9 127.10,640.3 114.50,640.3" fill="#000"/>
<polygon points="106.3,668.1 112.60,680.5 100.00,680.5" fill="#000"/>
<polygon points="120.8,661.3 127.10,673.6999999999999 114.50,673.6999999999999" fill="#000"/>
<polygon points="120.8,677.9 127.10,690.3 114.50,690.3" fill="#000"/>
<polygon points="120.8,701.5 127.10,713.9 114.50,713.9" fill="#000"/>
<polygon points="113.75,709.7 120.05,722.1 107.45,722.1" fill="#000"/>
<polygon points="106.3,714 112.60,726.4 100.00,726.4" fill="#000"/>
<polygon points="127.7,714 134.00,726.4 121.40,726.4" fill="#000"/>
<polygon points="120.8,717.4 127.10,729.8 114.50,729.8" fill="#000"/>
<polygon points="113.3,737.8 119.60,750.1999999999999 107.00,750.1999999999999" fill="#000"/>
<polygon points="127.7,744.7 134.00,757.1 121.40,757.1" fill="#000"/>
<polygon points="120.5,751.4 126.80,763.8 114.20,763.8" fill="#000"/>
<polygon points="165.6,655.58 169.61,664.65 161.59,664.65" fill="none" stroke="#000" stroke-width="2.1" stroke-linejoin="miter"/>
<polygon points="172.6,694.38 176.61,703.45 168.59,703.45" fill="none" stroke="#000" stroke-width="2.1" stroke-linejoin="miter"/>
<polygon points="150.9,700.38 154.91,709.45 146.89,709.45" fill="none" stroke="#000" stroke-width="2.1" stroke-linejoin="miter"/>
<polygon points="165.6,708.38 169.61,717.45 161.59,717.45" fill="none" stroke="#000" stroke-width="2.1" stroke-linejoin="miter"/>
<polygon points="165.6,731.58 169.61,740.65 161.59,740.65" fill="none" stroke="#000" stroke-width="2.1" stroke-linejoin="miter"/>
<polygon points="165.6,768.58 169.61,777.65 161.59,777.65" fill="none" stroke="#000" stroke-width="2.1" stroke-linejoin="miter"/>
<polygon points="165.6,785.83 169.61,794.90 161.59,794.90" fill="none" stroke="#000" stroke-width="2.1" stroke-linejoin="miter"/>
<circle cx="240" cy="590.5" r="5.1" fill="#000"/>
<circle cx="247.5" cy="590.5" r="5.1" fill="#000"/>
<circle cx="261.7" cy="590.5" r="5.1" fill="#000"/>
<circle cx="254.9" cy="588.3" r="5.1" fill="#000"/>
<circle cx="254.3" cy="598.5" r="5.1" fill="#000"/>
<circle cx="247.5" cy="605.2" r="5.1" fill="#000"/>
<circle cx="254.3" cy="615" r="5.1" fill="#000"/>
<circle cx="262.3" cy="613.1" r="5.1" fill="#000"/>
<circle cx="240" cy="622.9" r="5.1" fill="#000"/>
<circle cx="254.5" cy="630" r="5.1" fill="#000"/>
<circle cx="247.5" cy="648.6" r="5.1" fill="#000"/>
<circle cx="261.7" cy="651.5" r="5.1" fill="#000"/>
<circle cx="254.6" cy="660.4" r="5.1" fill="#000"/>
<circle cx="285.1" cy="590.7" r="3.95" fill="none" stroke="#000" stroke-width="2.1"/>
<circle cx="306.5" cy="590.7" r="3.95" fill="none" stroke="#000" stroke-width="2.1"/>
<circle cx="299.1" cy="598.1" r="3.95" fill="none" stroke="#000" stroke-width="2.1"/>
<circle cx="306.5" cy="609.1" r="3.95" fill="none" stroke="#000" stroke-width="2.1"/>
<circle cx="299.1" cy="614.7" r="3.95" fill="none" stroke="#000" stroke-width="2.1"/>
<circle cx="284.8" cy="634.1" r="3.95" fill="none" stroke="#000" stroke-width="2.1"/>
<circle cx="299.2" cy="644" r="3.95" fill="none" stroke="#000" stroke-width="2.1"/>
<circle cx="291.6" cy="649.7" r="3.95" fill="none" stroke="#000" stroke-width="2.1"/>
<circle cx="306.2" cy="650.1" r="3.95" fill="none" stroke="#000" stroke-width="2.1"/>
<circle cx="299.2" cy="663.4" r="3.95" fill="none" stroke="#000" stroke-width="2.1"/>
<circle cx="299.2" cy="688" r="3.95" fill="none" stroke="#000" stroke-width="2.1"/>
<circle cx="306.2" cy="719.8" r="3.95" fill="none" stroke="#000" stroke-width="2.1"/>
<circle cx="299.2" cy="727.1" r="3.95" fill="none" stroke="#000" stroke-width="2.1"/>
<rect x="376.30" y="585.20" width="10.2" height="10.2" fill="#000"/>
<rect x="383.70" y="585.20" width="10.2" height="10.2" fill="#000"/>
<rect x="391.10" y="585.20" width="10.2" height="10.2" fill="#000"/>
<rect x="369.40" y="599.30" width="10.2" height="10.2" fill="#000"/>
<rect x="383.80" y="601.90" width="10.2" height="10.2" fill="#000"/>
<rect x="376.30" y="619.40" width="10.2" height="10.2" fill="#000"/>
<rect x="383.90" y="630.90" width="10.2" height="10.2" fill="#000"/>
<rect x="390.90" y="630.90" width="10.2" height="10.2" fill="#000"/>
<rect x="390.90" y="636.40" width="10.2" height="10.2" fill="#000"/>
<rect x="369.40" y="640.40" width="10.2" height="10.2" fill="#000"/>
<rect x="383.80" y="650.40" width="10.2" height="10.2" fill="#000"/>
<rect x="376.40" y="664.40" width="10.2" height="10.2" fill="#000"/>
<rect x="390.90" y="671.50" width="10.2" height="10.2" fill="#000"/>
<rect x="383.80" y="673.10" width="10.2" height="10.2" fill="#000"/>
<rect x="415.40" y="586.40" width="8.0" height="8.0" fill="none" stroke="#000" stroke-width="2.05"/>
<rect x="429.40" y="586.40" width="8.0" height="8.0" fill="none" stroke="#000" stroke-width="2.05"/>
<rect x="422.30" y="612.90" width="8.0" height="8.0" fill="none" stroke="#000" stroke-width="2.05"/>
<rect x="429.50" y="612.00" width="8.0" height="8.0" fill="none" stroke="#000" stroke-width="2.05"/>
<rect x="415.30" y="625.20" width="8.0" height="8.0" fill="none" stroke="#000" stroke-width="2.05"/>
<rect x="429.50" y="627.30" width="8.0" height="8.0" fill="none" stroke="#000" stroke-width="2.05"/>
<rect x="437.10" y="623.40" width="8.0" height="8.0" fill="none" stroke="#000" stroke-width="2.05"/>
<rect x="437.10" y="632.60" width="8.0" height="8.0" fill="none" stroke="#000" stroke-width="2.05"/>
<rect x="429.40" y="645.20" width="8.0" height="8.0" fill="none" stroke="#000" stroke-width="2.05"/>
<rect x="415.30" y="662.90" width="8.0" height="8.0" fill="none" stroke="#000" stroke-width="2.05"/>
<rect x="429.40" y="664.70" width="8.0" height="8.0" fill="none" stroke="#000" stroke-width="2.05"/>
<rect x="429.40" y="685.90" width="8.0" height="8.0" fill="none" stroke="#000" stroke-width="2.05"/>
<line x1="105.1" y1="708.75" x2="136.8" y2="708.75" stroke-width="2"/>
<line x1="149.7" y1="724.7" x2="181.2" y2="724.7" stroke-width="2"/>
<line x1="239" y1="610.1" x2="270.7" y2="610.1" stroke-width="2"/>
<line x1="284" y1="645" x2="315.3" y2="645" stroke-width="2"/>
<line x1="373.3" y1="632.5" x2="405.1" y2="632.5" stroke-width="2"/>
<line x1="418.2" y1="634.8" x2="450" y2="634.8" stroke-width="2"/>
</svg></body></html>
